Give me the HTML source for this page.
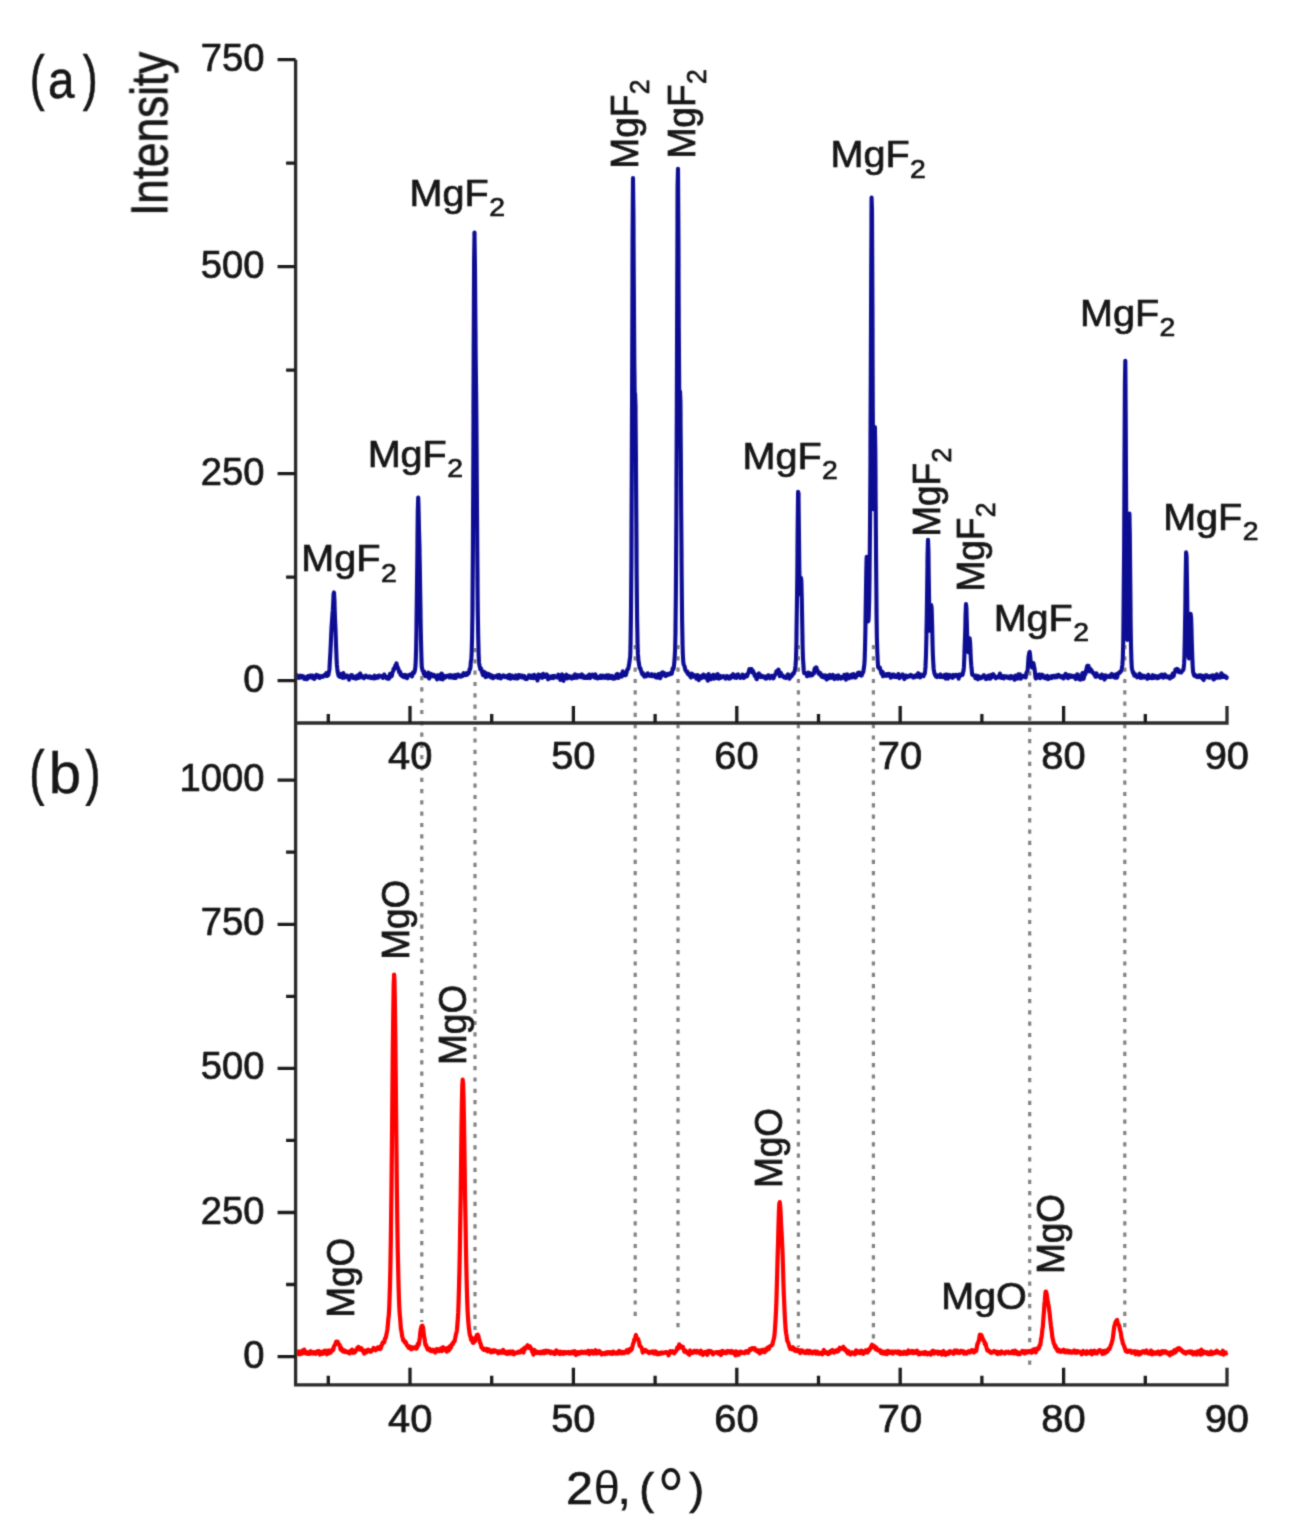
<!DOCTYPE html>
<html><head><meta charset="utf-8"><style>html,body{margin:0;padding:0;background:#fff;overflow:hidden}svg{display:block}</style></head>
<body><svg width="1311" height="1534" viewBox="0 0 1311 1534">
<defs><filter id="bl" filterUnits="userSpaceOnUse" x="0" y="0" width="1311" height="1534"><feConvolveMatrix order="5" kernelMatrix="0.00001 0.00042 0.00170 0.00042 0.00001 0.00042 0.02740 0.10988 0.02740 0.00042 0.00170 0.10988 0.44065 0.10988 0.00170 0.00042 0.02740 0.10988 0.02740 0.00042 0.00001 0.00042 0.00170 0.00042 0.00001" divisor="1" edgeMode="duplicate"/></filter></defs>
<rect width="100%" height="100%" fill="#fff"/>
<g filter="url(#bl)">
<line x1="421.8" y1="676" x2="421.8" y2="1322" stroke="#828282" stroke-width="3.2" stroke-dasharray="4.2 7.1"/>
<line x1="475.0" y1="648" x2="475.0" y2="1330" stroke="#828282" stroke-width="3.2" stroke-dasharray="4.2 7.1"/>
<line x1="635.2" y1="645" x2="635.2" y2="1320" stroke="#828282" stroke-width="3.2" stroke-dasharray="4.2 7.1"/>
<line x1="678.0" y1="645" x2="678.0" y2="1329" stroke="#828282" stroke-width="3.2" stroke-dasharray="4.2 7.1"/>
<line x1="798.4" y1="645" x2="798.4" y2="1347" stroke="#828282" stroke-width="3.2" stroke-dasharray="4.2 7.1"/>
<line x1="873.4" y1="645" x2="873.4" y2="1342" stroke="#828282" stroke-width="3.2" stroke-dasharray="4.2 7.1"/>
<line x1="1029.7" y1="660" x2="1029.7" y2="1365" stroke="#828282" stroke-width="3.2" stroke-dasharray="4.2 7.1"/>
<line x1="1124.8" y1="645" x2="1124.8" y2="1334" stroke="#828282" stroke-width="3.2" stroke-dasharray="4.2 7.1"/>
<polyline points="295.6,676.9 296.0,675.8 296.4,674.8 296.8,676.3 297.3,677.6 297.7,677.6 298.1,676.9 298.5,676.5 298.9,676.3 299.3,677.8 299.7,677.1 300.1,675.7 300.5,676.4 300.9,676.4 301.3,677.3 301.7,676.8 302.2,675.8 302.6,676.4 303.0,677.2 303.4,676.4 303.8,677.0 304.2,678.9 304.6,677.8 305.0,677.1 305.4,679.0 305.8,679.1 306.2,677.9 306.6,678.2 307.1,679.1 307.5,678.1 307.9,676.1 308.3,676.3 308.7,677.7 309.1,677.2 309.5,675.9 309.9,676.5 310.3,676.6 310.7,675.5 311.1,676.1 311.6,677.7 312.0,677.2 312.4,676.3 312.8,675.7 313.2,677.0 313.6,678.4 314.0,678.0 314.4,678.9 314.8,678.1 315.2,676.2 315.6,676.9 316.0,676.2 316.5,674.9 316.9,675.5 317.3,675.9 317.7,675.6 318.1,677.0 318.5,677.3 318.9,675.7 319.3,677.6 319.7,677.8 320.1,676.5 320.5,676.2 320.9,676.3 321.4,676.9 321.8,676.3 322.2,676.9 322.6,676.7 323.0,676.0 323.4,676.0 323.8,676.3 324.2,675.8 324.6,674.8 325.0,675.7 325.4,675.6 325.8,674.3 326.3,673.2 326.7,675.4 327.1,675.9 327.5,674.0 327.9,674.5 328.3,675.2 328.7,673.1 329.1,671.5 329.5,668.7 329.9,660.6 330.3,653.7 330.8,644.3 331.2,633.9 331.6,626.9 332.0,621.1 332.4,615.1 332.8,610.2 333.2,603.2 333.6,594.2 334.0,592.4 334.4,599.9 334.8,612.0 335.2,623.0 335.7,634.3 336.1,646.9 336.5,657.9 336.9,664.9 337.3,668.9 337.7,672.0 338.1,673.8 338.5,675.6 338.9,676.3 339.3,674.5 339.7,674.5 340.1,676.9 340.6,675.8 341.0,674.3 341.4,673.8 341.8,674.3 342.2,676.5 342.6,677.8 343.0,676.4 343.4,673.1 343.8,674.9 344.2,677.7 344.6,676.5 345.0,676.7 345.5,677.4 345.9,677.1 346.3,676.7 346.7,675.5 347.1,675.7 347.5,675.9 347.9,676.2 348.3,676.7 348.7,678.2 349.1,679.7 349.5,677.2 350.0,676.5 350.4,676.7 350.8,675.8 351.2,675.2 351.6,675.0 352.0,675.2 352.4,676.0 352.8,677.4 353.2,678.0 353.6,677.8 354.0,678.1 354.4,678.2 354.9,677.3 355.3,676.7 355.7,676.9 356.1,678.7 356.5,678.5 356.9,676.7 357.3,675.7 357.7,675.4 358.1,676.9 358.5,678.0 358.9,675.8 359.3,674.5 359.8,674.7 360.2,673.5 360.6,675.7 361.0,677.2 361.4,676.1 361.8,676.0 362.2,675.9 362.6,676.2 363.0,676.5 363.4,677.9 363.8,678.2 364.2,677.6 364.7,677.4 365.1,677.1 365.5,676.7 365.9,675.6 366.3,675.9 366.7,676.3 367.1,676.5 367.5,677.1 367.9,677.3 368.3,677.4 368.7,676.9 369.1,676.5 369.6,676.3 370.0,677.5 370.4,677.2 370.8,676.7 371.2,678.1 371.6,677.6 372.0,677.5 372.4,677.1 372.8,677.1 373.2,678.2 373.6,678.4 374.1,676.4 374.5,675.7 374.9,677.7 375.3,677.8 375.7,678.1 376.1,676.6 376.5,676.6 376.9,677.7 377.3,676.0 377.7,677.5 378.1,677.7 378.5,675.7 379.0,675.6 379.4,676.2 379.8,675.8 380.2,675.8 380.6,676.3 381.0,676.6 381.4,676.3 381.8,677.0 382.2,676.9 382.6,676.5 383.0,678.0 383.4,677.3 383.9,675.0 384.3,674.5 384.7,676.3 385.1,676.5 385.5,676.4 385.9,677.1 386.3,676.6 386.7,678.4 387.1,678.3 387.5,677.2 387.9,677.9 388.3,678.2 388.8,678.8 389.2,678.3 389.6,676.3 390.0,673.9 390.4,674.4 390.8,674.6 391.2,674.3 391.6,676.3 392.0,675.2 392.4,672.4 392.8,671.8 393.3,670.8 393.7,668.7 394.1,668.4 394.5,668.9 394.9,667.4 395.3,665.7 395.7,665.5 396.1,664.6 396.5,663.4 396.9,665.4 397.3,667.2 397.7,667.3 398.2,668.5 398.6,669.6 399.0,671.5 399.4,672.7 399.8,671.5 400.2,672.1 400.6,674.8 401.0,675.3 401.4,674.1 401.8,674.5 402.2,676.1 402.6,675.2 403.1,675.9 403.5,676.8 403.9,675.8 404.3,677.2 404.7,676.2 405.1,674.9 405.5,676.9 405.9,676.6 406.3,676.0 406.7,678.0 407.1,678.2 407.5,676.4 408.0,675.3 408.4,675.3 408.8,675.7 409.2,675.4 409.6,675.5 410.0,674.8 410.4,674.4 410.8,675.0 411.2,674.5 411.6,675.5 412.0,676.3 412.5,673.9 412.9,672.7 413.3,673.7 413.7,673.2 414.1,672.7 414.5,671.8 414.9,670.4 415.3,667.6 415.7,662.5 416.1,649.3 416.5,625.6 416.9,592.7 417.4,549.4 417.8,511.3 418.2,497.5 418.6,510.0 419.0,530.1 419.4,544.6 419.8,565.5 420.2,593.2 420.6,618.7 421.0,640.8 421.4,657.1 421.8,666.9 422.3,669.5 422.7,670.8 423.1,671.1 423.5,672.4 423.9,674.2 424.3,671.6 424.7,672.8 425.1,676.2 425.5,675.8 425.9,675.3 426.3,674.8 426.7,674.8 427.2,676.2 427.6,676.2 428.0,673.5 428.4,672.7 428.8,677.3 429.2,678.5 429.6,677.0 430.0,676.4 430.4,675.9 430.8,674.8 431.2,673.9 431.7,674.8 432.1,675.5 432.5,676.3 432.9,676.2 433.3,675.1 433.7,674.9 434.1,676.3 434.5,675.7 434.9,675.3 435.3,676.4 435.7,677.2 436.1,677.6 436.6,677.5 437.0,679.4 437.4,678.0 437.8,675.2 438.2,676.3 438.6,675.9 439.0,675.3 439.4,675.9 439.8,678.3 440.2,678.8 440.6,676.3 441.0,674.8 441.5,673.7 441.9,673.9 442.3,676.4 442.7,679.4 443.1,677.9 443.5,676.1 443.9,675.8 444.3,675.9 444.7,676.5 445.1,677.6 445.5,677.5 445.9,676.6 446.4,676.7 446.8,675.9 447.2,676.3 447.6,676.4 448.0,676.3 448.4,675.9 448.8,675.5 449.2,676.6 449.6,677.5 450.0,675.6 450.4,675.1 450.8,675.8 451.3,675.3 451.7,676.6 452.1,677.5 452.5,677.0 452.9,676.1 453.3,675.7 453.7,676.9 454.1,677.9 454.5,676.9 454.9,675.1 455.3,677.0 455.8,677.9 456.2,676.4 456.6,676.3 457.0,676.3 457.4,676.3 457.8,674.6 458.2,674.5 458.6,675.4 459.0,675.4 459.4,676.3 459.8,676.1 460.2,675.6 460.7,676.7 461.1,676.5 461.5,675.9 461.9,675.2 462.3,675.0 462.7,676.0 463.1,674.6 463.5,673.2 463.9,673.3 464.3,673.5 464.7,674.4 465.1,675.1 465.6,675.1 466.0,673.7 466.4,673.1 466.8,674.8 467.2,674.6 467.6,674.1 468.0,673.5 468.4,672.7 468.8,673.2 469.2,671.3 469.6,669.2 470.0,669.4 470.5,667.0 470.9,661.4 471.3,659.5 471.7,652.7 472.1,637.1 472.5,607.8 472.9,549.5 473.3,461.4 473.7,352.3 474.1,259.6 474.5,232.6 475.0,269.2 475.4,324.5 475.8,366.2 476.2,398.2 476.6,447.4 477.0,510.3 477.4,567.6 477.8,610.6 478.2,637.2 478.6,653.2 479.0,662.2 479.4,665.2 479.9,667.1 480.3,669.3 480.7,669.3 481.1,668.6 481.5,670.0 481.9,672.2 482.3,672.5 482.7,674.3 483.1,675.2 483.5,674.8 483.9,673.1 484.3,671.9 484.8,673.9 485.2,674.9 485.6,677.2 486.0,676.6 486.4,673.3 486.8,674.6 487.2,675.5 487.6,674.4 488.0,676.3 488.4,676.2 488.8,673.9 489.2,674.6 489.7,675.8 490.1,675.4 490.5,676.7 490.9,677.3 491.3,675.2 491.7,676.3 492.1,676.4 492.5,675.8 492.9,678.3 493.3,678.1 493.7,677.2 494.2,676.9 494.6,677.1 495.0,676.5 495.4,676.2 495.8,676.7 496.2,676.6 496.6,677.2 497.0,675.8 497.4,675.3 497.8,676.7 498.2,677.9 498.6,676.6 499.1,675.0 499.5,676.2 499.9,676.7 500.3,677.2 500.7,678.3 501.1,678.1 501.5,677.0 501.9,676.1 502.3,677.0 502.7,676.7 503.1,675.4 503.5,675.9 504.0,675.7 504.4,676.1 504.8,677.0 505.2,676.4 505.6,676.3 506.0,676.1 506.4,677.1 506.8,676.6 507.2,676.2 507.6,677.5 508.0,678.0 508.4,677.4 508.9,675.2 509.3,674.8 509.7,675.2 510.1,677.4 510.5,678.7 510.9,677.8 511.3,677.9 511.7,676.6 512.1,675.7 512.5,676.6 512.9,676.4 513.4,677.2 513.8,678.3 514.2,678.3 514.6,677.1 515.0,676.1 515.4,676.0 515.8,675.4 516.2,677.0 516.6,678.4 517.0,677.1 517.4,677.8 517.8,678.4 518.3,676.4 518.7,675.1 519.1,675.0 519.5,675.9 519.9,677.0 520.3,676.1 520.7,676.2 521.1,676.9 521.5,675.5 521.9,676.0 522.3,677.6 522.7,677.3 523.2,676.3 523.6,675.9 524.0,676.3 524.4,676.2 524.8,677.7 525.2,678.9 525.6,677.4 526.0,677.5 526.4,678.7 526.8,679.0 527.2,678.6 527.6,677.8 528.1,677.8 528.5,677.5 528.9,675.3 529.3,675.6 529.7,675.9 530.1,675.6 530.5,677.5 530.9,678.0 531.3,677.9 531.7,677.0 532.1,677.2 532.5,676.7 533.0,675.3 533.4,678.1 533.8,677.9 534.2,674.9 534.6,676.2 535.0,676.7 535.4,677.5 535.8,678.1 536.2,678.0 536.6,677.8 537.0,677.9 537.5,680.5 537.9,678.7 538.3,674.6 538.7,675.5 539.1,676.7 539.5,676.1 539.9,677.0 540.3,676.6 540.7,675.0 541.1,676.5 541.5,677.4 541.9,676.1 542.4,677.8 542.8,676.7 543.2,673.9 543.6,676.0 544.0,676.2 544.4,675.4 544.8,677.0 545.2,675.8 545.6,675.4 546.0,676.4 546.4,675.3 546.8,674.5 547.3,675.1 547.7,677.3 548.1,679.3 548.5,677.2 548.9,676.7 549.3,677.5 549.7,677.6 550.1,677.9 550.5,678.1 550.9,676.6 551.3,676.4 551.7,677.8 552.2,677.1 552.6,676.0 553.0,677.0 553.4,678.1 553.8,677.1 554.2,676.6 554.6,676.0 555.0,676.9 555.4,677.1 555.8,677.0 556.2,676.8 556.7,676.6 557.1,677.5 557.5,677.4 557.9,676.6 558.3,674.7 558.7,675.4 559.1,677.0 559.5,675.4 559.9,677.4 560.3,680.0 560.7,679.3 561.1,677.9 561.6,674.9 562.0,674.5 562.4,675.5 562.8,676.0 563.2,679.1 563.6,680.8 564.0,677.9 564.4,675.9 564.8,677.8 565.2,677.0 565.6,677.2 566.0,677.2 566.5,674.7 566.9,676.3 567.3,678.4 567.7,677.1 568.1,677.1 568.5,677.0 568.9,677.1 569.3,677.2 569.7,676.1 570.1,677.1 570.5,678.0 570.9,677.4 571.4,678.2 571.8,678.6 572.2,677.4 572.6,676.6 573.0,677.3 573.4,676.5 573.8,675.7 574.2,678.0 574.6,676.6 575.0,674.3 575.4,675.6 575.9,677.7 576.3,677.6 576.7,677.4 577.1,677.7 577.5,675.8 577.9,675.2 578.3,676.4 578.7,676.4 579.1,676.6 579.5,676.2 579.9,675.4 580.3,676.4 580.8,677.0 581.2,674.7 581.6,674.5 582.0,676.6 582.4,675.3 582.8,675.1 583.2,677.7 583.6,677.2 584.0,677.0 584.4,678.0 584.8,677.0 585.2,676.6 585.7,677.5 586.1,677.9 586.5,677.7 586.9,676.3 587.3,676.4 587.7,677.9 588.1,675.6 588.5,675.6 588.9,676.0 589.3,674.5 589.7,675.8 590.1,678.1 590.6,677.6 591.0,675.8 591.4,675.4 591.8,675.9 592.2,675.7 592.6,674.6 593.0,676.5 593.4,676.4 593.8,675.4 594.2,677.1 594.6,677.5 595.1,675.5 595.5,674.4 595.9,677.4 596.3,678.1 596.7,676.8 597.1,677.0 597.5,677.3 597.9,678.3 598.3,677.2 598.7,676.8 599.1,677.8 599.5,677.5 600.0,677.8 600.4,676.7 600.8,675.7 601.2,676.9 601.6,678.0 602.0,677.8 602.4,676.2 602.8,675.7 603.2,676.3 603.6,676.7 604.0,677.1 604.4,676.6 604.9,677.9 605.3,676.8 605.7,675.9 606.1,677.7 606.5,675.9 606.9,675.3 607.3,676.3 607.7,677.0 608.1,678.3 608.5,677.6 608.9,675.3 609.3,676.2 609.8,676.1 610.2,676.2 610.6,678.0 611.0,676.6 611.4,676.0 611.8,675.8 612.2,676.4 612.6,677.8 613.0,678.7 613.4,678.8 613.8,678.1 614.2,678.3 614.7,677.1 615.1,676.5 615.5,678.3 615.9,675.7 616.3,674.7 616.7,677.7 617.1,676.0 617.5,673.9 617.9,675.9 618.3,678.0 618.7,677.8 619.2,675.6 619.6,675.0 620.0,676.5 620.4,676.2 620.8,674.4 621.2,675.4 621.6,676.6 622.0,676.5 622.4,674.3 622.8,671.4 623.2,672.3 623.6,673.7 624.1,673.7 624.5,675.1 624.9,675.2 625.3,674.2 625.7,675.2 626.1,674.2 626.5,672.9 626.9,671.2 627.3,669.6 627.7,669.0 628.1,669.2 628.5,667.5 629.0,665.0 629.4,662.2 629.8,659.4 630.2,656.5 630.6,643.4 631.0,612.1 631.4,557.8 631.8,470.7 632.2,351.6 632.6,234.8 633.0,178.0 633.4,212.8 633.9,295.6 634.3,363.8 634.7,392.2 635.1,394.2 635.5,406.7 635.9,452.4 636.3,516.9 636.7,576.5 637.1,618.4 637.5,640.9 637.9,653.4 638.4,660.7 638.8,662.5 639.2,665.3 639.6,668.2 640.0,668.5 640.4,668.3 640.8,669.6 641.2,671.4 641.6,672.1 642.0,673.8 642.4,673.3 642.8,672.8 643.3,675.5 643.7,675.6 644.1,675.8 644.5,676.7 644.9,675.4 645.3,675.5 645.7,674.8 646.1,675.3 646.5,676.1 646.9,674.5 647.3,673.6 647.7,673.4 648.2,674.5 648.6,675.2 649.0,675.5 649.4,674.7 649.8,675.2 650.2,675.8 650.6,675.3 651.0,675.6 651.4,675.8 651.8,674.2 652.2,674.6 652.6,676.2 653.1,675.4 653.5,675.1 653.9,675.0 654.3,675.2 654.7,674.7 655.1,676.3 655.5,677.1 655.9,676.9 656.3,676.7 656.7,676.7 657.1,677.7 657.6,676.7 658.0,674.8 658.4,674.2 658.8,675.1 659.2,674.4 659.6,675.4 660.0,678.3 660.4,677.9 660.8,676.3 661.2,674.9 661.6,672.9 662.0,675.0 662.5,674.7 662.9,672.2 663.3,673.5 663.7,674.5 664.1,673.1 664.5,673.3 664.9,675.6 665.3,675.5 665.7,676.1 666.1,675.7 666.5,674.6 666.9,674.6 667.4,674.0 667.8,675.0 668.2,674.1 668.6,673.8 669.0,674.0 669.4,674.2 669.8,674.3 670.2,673.3 670.6,673.2 671.0,672.6 671.4,673.8 671.8,673.6 672.3,670.9 672.7,668.4 673.1,668.5 673.5,669.2 673.9,666.6 674.3,662.2 674.7,657.6 675.1,649.7 675.5,630.5 675.9,591.4 676.3,521.8 676.8,416.6 677.2,289.5 677.6,186.3 678.0,168.8 678.4,236.5 678.8,327.9 679.2,390.0 679.6,402.5 680.0,391.4 680.4,401.0 680.8,448.7 681.2,515.4 681.7,577.6 682.1,620.7 682.5,643.0 682.9,655.5 683.3,662.3 683.7,664.5 684.1,665.4 684.5,666.2 684.9,667.8 685.3,669.9 685.7,670.7 686.1,670.7 686.6,672.1 687.0,671.9 687.4,671.7 687.8,673.8 688.2,673.4 688.6,673.3 689.0,674.1 689.4,675.3 689.8,676.0 690.2,675.7 690.6,676.6 691.0,677.5 691.5,675.0 691.9,673.7 692.3,675.3 692.7,674.4 693.1,674.8 693.5,675.3 693.9,676.4 694.3,676.7 694.7,676.0 695.1,675.8 695.5,675.4 695.9,677.0 696.4,678.7 696.8,678.4 697.2,676.3 697.6,675.2 698.0,675.5 698.4,677.5 698.8,680.1 699.2,679.0 699.6,677.1 700.0,677.1 700.4,676.5 700.9,676.2 701.3,677.5 701.7,678.1 702.1,677.0 702.5,676.2 702.9,676.4 703.3,674.6 703.7,674.8 704.1,676.6 704.5,677.2 704.9,677.6 705.3,676.4 705.8,675.6 706.2,676.2 706.6,676.4 707.0,676.2 707.4,678.1 707.8,680.8 708.2,677.4 708.6,674.0 709.0,676.0 709.4,678.1 709.8,679.1 710.2,676.6 710.7,677.8 711.1,679.2 711.5,676.2 711.9,675.8 712.3,675.9 712.7,676.1 713.1,674.8 713.5,675.5 713.9,678.7 714.3,677.6 714.7,675.3 715.1,675.6 715.6,675.9 716.0,676.3 716.4,678.1 716.8,676.5 717.2,674.3 717.6,674.1 718.0,675.8 718.4,678.0 718.8,678.7 719.2,677.9 719.6,676.4 720.1,675.8 720.5,677.5 720.9,677.8 721.3,676.6 721.7,676.7 722.1,676.7 722.5,676.9 722.9,676.4 723.3,676.2 723.7,676.5 724.1,677.1 724.5,677.0 725.0,676.5 725.4,678.6 725.8,678.1 726.2,676.6 726.6,676.2 727.0,676.1 727.4,677.0 727.8,676.7 728.2,676.6 728.6,677.2 729.0,678.6 729.4,676.7 729.9,676.6 730.3,678.4 730.7,676.5 731.1,675.9 731.5,676.0 731.9,675.7 732.3,675.1 732.7,675.5 733.1,674.1 733.5,675.2 733.9,677.4 734.3,676.9 734.8,677.5 735.2,677.0 735.6,675.3 736.0,676.1 736.4,677.9 736.8,676.7 737.2,675.7 737.6,674.7 738.0,674.3 738.4,675.7 738.8,676.8 739.3,676.8 739.7,676.7 740.1,678.0 740.5,677.8 740.9,676.8 741.3,677.0 741.7,677.2 742.1,675.6 742.5,674.7 742.9,675.3 743.3,676.3 743.7,677.9 744.2,677.6 744.6,676.5 745.0,676.5 745.4,676.8 745.8,675.5 746.2,674.8 746.6,676.1 747.0,676.2 747.4,675.2 747.8,673.9 748.2,673.3 748.6,672.6 749.1,670.1 749.5,669.1 749.9,669.9 750.3,670.3 750.7,669.6 751.1,669.1 751.5,669.0 751.9,670.0 752.3,672.4 752.7,671.7 753.1,671.0 753.5,672.6 754.0,673.3 754.4,675.1 754.8,676.1 755.2,675.5 755.6,674.8 756.0,675.2 756.4,678.8 756.8,679.2 757.2,676.4 757.6,675.2 758.0,674.9 758.5,673.9 758.9,673.4 759.3,674.3 759.7,674.8 760.1,677.0 760.5,677.1 760.9,675.5 761.3,676.6 761.7,676.6 762.1,675.9 762.5,676.7 762.9,677.2 763.4,677.0 763.8,676.7 764.2,676.9 764.6,676.6 765.0,677.8 765.4,678.5 765.8,678.3 766.2,678.5 766.6,676.7 767.0,676.2 767.4,676.8 767.8,676.7 768.3,675.3 768.7,676.3 769.1,676.8 769.5,677.2 769.9,678.3 770.3,676.9 770.7,677.2 771.1,677.1 771.5,675.8 771.9,676.9 772.3,677.6 772.7,676.9 773.2,678.3 773.6,678.1 774.0,677.0 774.4,675.5 774.8,675.2 775.2,674.5 775.6,673.7 776.0,672.9 776.4,671.4 776.8,672.1 777.2,671.4 777.6,670.7 778.1,670.1 778.5,669.6 778.9,671.2 779.3,674.0 779.7,676.2 780.1,675.8 780.5,673.3 780.9,673.0 781.3,673.9 781.7,674.9 782.1,675.9 782.6,676.1 783.0,675.6 783.4,677.0 783.8,676.8 784.2,676.7 784.6,677.5 785.0,676.8 785.4,677.0 785.8,677.3 786.2,678.0 786.6,677.3 787.0,677.2 787.5,674.9 787.9,674.3 788.3,676.8 788.7,676.9 789.1,677.2 789.5,678.7 789.9,677.9 790.3,675.5 790.7,676.4 791.1,676.5 791.5,676.1 791.9,675.9 792.4,674.3 792.8,673.6 793.2,673.2 793.6,673.7 794.0,672.7 794.4,671.7 794.8,671.0 795.2,668.2 795.6,665.2 796.0,659.1 796.4,642.4 796.8,613.7 797.3,573.0 797.7,526.0 798.1,491.9 798.5,493.5 798.9,529.3 799.3,567.8 799.7,589.9 800.1,594.3 800.5,586.9 800.9,577.7 801.3,580.0 801.8,598.3 802.2,623.0 802.6,645.4 803.0,658.7 803.4,665.0 803.8,670.5 804.2,673.1 804.6,672.8 805.0,673.2 805.4,673.5 805.8,673.2 806.2,673.5 806.7,674.5 807.1,676.2 807.5,675.8 807.9,673.6 808.3,672.6 808.7,673.9 809.1,675.6 809.5,674.4 809.9,673.2 810.3,674.1 810.7,674.7 811.1,675.4 811.6,675.3 812.0,675.0 812.4,675.1 812.8,673.8 813.2,673.1 813.6,673.8 814.0,673.0 814.4,669.9 814.8,668.4 815.2,668.5 815.6,668.0 816.0,667.4 816.5,667.5 816.9,669.3 817.3,670.5 817.7,670.7 818.1,672.0 818.5,673.6 818.9,673.6 819.3,673.8 819.7,672.7 820.1,672.7 820.5,675.2 821.0,675.9 821.4,674.5 821.8,675.2 822.2,677.0 822.6,677.0 823.0,677.1 823.4,676.5 823.8,675.5 824.2,676.7 824.6,677.7 825.0,675.2 825.4,675.6 825.9,677.1 826.3,677.4 826.7,679.5 827.1,678.8 827.5,675.7 827.9,676.0 828.3,678.5 828.7,677.9 829.1,676.3 829.5,675.7 829.9,675.0 830.3,676.1 830.8,676.5 831.2,677.8 831.6,677.2 832.0,675.6 832.4,675.6 832.8,674.9 833.2,676.0 833.6,677.0 834.0,677.5 834.4,679.1 834.8,678.4 835.2,676.6 835.7,677.4 836.1,676.9 836.5,675.9 836.9,676.2 837.3,676.9 837.7,678.7 838.1,677.4 838.5,675.4 838.9,676.2 839.3,677.0 839.7,677.2 840.2,676.9 840.6,677.1 841.0,678.6 841.4,677.6 841.8,677.1 842.2,678.1 842.6,677.1 843.0,676.6 843.4,677.6 843.8,676.8 844.2,674.9 844.6,675.3 845.1,674.8 845.5,676.1 845.9,679.7 846.3,678.7 846.7,675.0 847.1,674.3 847.5,675.8 847.9,676.9 848.3,676.2 848.7,677.6 849.1,678.3 849.5,677.3 850.0,675.5 850.4,675.4 850.8,675.4 851.2,674.8 851.6,677.5 852.0,675.6 852.4,675.0 852.8,676.3 853.2,674.0 853.6,674.9 854.0,677.3 854.4,676.0 854.9,674.8 855.3,676.7 855.7,677.5 856.1,676.8 856.5,675.0 856.9,674.8 857.3,675.0 857.7,673.3 858.1,672.7 858.5,672.7 858.9,672.6 859.3,674.9 859.8,674.8 860.2,672.9 860.6,673.8 861.0,674.7 861.4,675.6 861.8,675.2 862.2,673.4 862.6,672.9 863.0,672.8 863.4,671.3 863.8,668.4 864.3,664.8 864.7,658.8 865.1,644.6 865.5,623.6 865.9,596.1 866.3,569.4 866.7,556.7 867.1,565.3 867.5,588.3 867.9,610.1 868.3,621.4 868.7,617.4 869.2,600.1 869.6,570.7 870.0,528.5 870.4,467.7 870.8,376.5 871.2,270.3 871.6,197.6 872.0,210.3 872.4,302.1 872.8,408.6 873.2,483.0 873.6,509.3 874.1,490.3 874.5,449.6 874.9,427.0 875.3,449.5 875.7,503.5 876.1,561.9 876.5,609.2 876.9,638.1 877.3,651.9 877.7,660.7 878.1,666.7 878.5,667.8 879.0,667.4 879.4,667.3 879.8,667.5 880.2,669.6 880.6,670.0 881.0,672.0 881.4,673.6 881.8,673.4 882.2,672.4 882.6,672.0 883.0,676.2 883.5,675.7 883.9,674.2 884.3,674.8 884.7,674.6 885.1,675.2 885.5,674.4 885.9,674.5 886.3,675.9 886.7,675.0 887.1,674.0 887.5,675.2 887.9,675.0 888.4,675.5 888.8,674.6 889.2,674.0 889.6,675.4 890.0,675.3 890.4,676.4 890.8,677.7 891.2,676.8 891.6,675.6 892.0,674.7 892.4,674.6 892.8,676.7 893.3,676.6 893.7,675.1 894.1,674.7 894.5,675.1 894.9,677.0 895.3,676.3 895.7,675.9 896.1,676.4 896.5,677.1 896.9,677.0 897.3,676.4 897.7,676.1 898.2,674.0 898.6,674.0 899.0,676.4 899.4,678.2 899.8,677.9 900.2,676.6 900.6,675.6 901.0,676.0 901.4,676.1 901.8,675.7 902.2,675.4 902.7,674.5 903.1,675.1 903.5,676.4 903.9,677.9 904.3,679.1 904.7,678.2 905.1,678.1 905.5,677.3 905.9,675.5 906.3,676.0 906.7,677.3 907.1,677.3 907.6,676.8 908.0,676.9 908.4,676.6 908.8,675.9 909.2,676.0 909.6,675.6 910.0,675.8 910.4,676.4 910.8,674.9 911.2,675.1 911.6,675.9 912.0,675.8 912.5,676.8 912.9,677.2 913.3,677.5 913.7,677.1 914.1,676.9 914.5,677.2 914.9,675.7 915.3,675.5 915.7,675.5 916.1,675.1 916.5,675.3 916.9,676.0 917.4,676.6 917.8,673.9 918.2,673.2 918.6,674.5 919.0,675.0 919.4,675.0 919.8,676.1 920.2,677.4 920.6,676.0 921.0,674.5 921.4,675.0 921.9,675.7 922.3,675.4 922.7,675.2 923.1,675.6 923.5,676.2 923.9,674.7 924.3,674.3 924.7,673.9 925.1,671.0 925.5,666.9 925.9,657.5 926.3,640.9 926.8,615.8 927.2,584.1 927.6,554.4 928.0,539.8 928.4,551.0 928.8,579.9 929.2,608.3 929.6,626.0 930.0,630.6 930.4,622.5 930.8,611.3 931.2,605.1 931.7,609.0 932.1,623.9 932.5,642.0 932.9,655.1 933.3,663.3 933.7,669.0 934.1,671.9 934.5,673.2 934.9,674.7 935.3,675.0 935.7,676.1 936.1,676.6 936.6,676.6 937.0,677.0 937.4,675.3 937.8,675.4 938.2,676.5 938.6,675.9 939.0,675.9 939.4,676.7 939.8,676.9 940.2,675.3 940.6,674.5 941.0,675.4 941.5,677.0 941.9,676.9 942.3,677.0 942.7,677.1 943.1,677.0 943.5,675.8 943.9,676.3 944.3,676.9 944.7,674.9 945.1,677.4 945.5,678.3 946.0,675.6 946.4,674.5 946.8,677.1 947.2,678.4 947.6,678.1 948.0,678.5 948.4,678.0 948.8,675.7 949.2,675.0 949.6,676.7 950.0,677.1 950.4,676.4 950.9,675.5 951.3,676.9 951.7,676.2 952.1,676.3 952.5,677.8 952.9,676.5 953.3,674.9 953.7,675.5 954.1,676.7 954.5,675.3 954.9,675.0 955.3,675.1 955.8,674.8 956.2,675.5 956.6,675.8 957.0,675.2 957.4,675.7 957.8,675.1 958.2,676.7 958.6,678.7 959.0,675.8 959.4,674.6 959.8,676.2 960.2,676.1 960.7,674.6 961.1,675.2 961.5,675.2 961.9,674.6 962.3,674.9 962.7,674.3 963.1,672.1 963.5,670.7 963.9,667.4 964.3,657.8 964.7,645.9 965.2,631.5 965.6,614.1 966.0,604.0 966.4,608.1 966.8,621.0 967.2,636.9 967.6,646.0 968.0,650.9 968.4,652.2 968.8,647.2 969.2,641.8 969.6,638.2 970.1,642.6 970.5,651.6 970.9,660.3 971.3,665.7 971.7,669.3 972.1,674.2 972.5,674.9 972.9,674.8 973.3,675.3 973.7,675.1 974.1,675.5 974.5,675.7 975.0,676.8 975.4,678.2 975.8,676.7 976.2,675.7 976.6,676.3 977.0,676.6 977.4,678.6 977.8,679.3 978.2,676.5 978.6,676.1 979.0,677.6 979.4,678.2 979.9,678.4 980.3,677.5 980.7,677.2 981.1,677.0 981.5,677.4 981.9,677.8 982.3,677.3 982.7,676.6 983.1,676.7 983.5,675.5 983.9,675.2 984.4,676.5 984.8,677.3 985.2,676.6 985.6,676.9 986.0,679.1 986.4,679.0 986.8,677.2 987.2,677.3 987.6,676.8 988.0,675.9 988.4,678.2 988.8,678.4 989.3,675.6 989.7,676.2 990.1,678.7 990.5,677.6 990.9,675.4 991.3,675.0 991.7,676.4 992.1,677.1 992.5,676.5 992.9,675.7 993.3,674.2 993.7,675.3 994.2,676.0 994.6,676.2 995.0,676.8 995.4,677.2 995.8,678.4 996.2,677.3 996.6,677.4 997.0,677.0 997.4,676.7 997.8,677.4 998.2,677.0 998.6,677.3 999.1,677.1 999.5,676.0 999.9,673.5 1000.3,675.4 1000.7,677.7 1001.1,676.9 1001.5,677.9 1001.9,677.5 1002.3,677.5 1002.7,677.8 1003.1,676.0 1003.6,677.6 1004.0,678.4 1004.4,676.4 1004.8,677.4 1005.2,677.3 1005.6,676.3 1006.0,677.0 1006.4,676.3 1006.8,677.1 1007.2,677.5 1007.6,676.6 1008.0,678.0 1008.5,678.0 1008.9,677.4 1009.3,676.6 1009.7,677.5 1010.1,678.4 1010.5,677.5 1010.9,676.0 1011.3,676.6 1011.7,677.0 1012.1,677.5 1012.5,678.1 1012.9,676.8 1013.4,676.8 1013.8,677.2 1014.2,679.1 1014.6,679.8 1015.0,677.1 1015.4,675.7 1015.8,677.5 1016.2,676.9 1016.6,676.8 1017.0,678.2 1017.4,678.5 1017.8,676.9 1018.3,674.3 1018.7,676.1 1019.1,677.4 1019.5,675.8 1019.9,674.3 1020.3,677.1 1020.7,678.7 1021.1,676.2 1021.5,677.5 1021.9,677.7 1022.3,676.2 1022.7,675.9 1023.2,676.5 1023.6,676.7 1024.0,676.7 1024.4,676.5 1024.8,675.7 1025.2,676.4 1025.6,677.5 1026.0,675.5 1026.4,672.8 1026.8,672.2 1027.2,671.7 1027.7,669.6 1028.1,663.4 1028.5,657.5 1028.9,654.9 1029.3,652.6 1029.7,651.9 1030.1,655.2 1030.5,660.4 1030.9,663.2 1031.3,664.5 1031.7,666.5 1032.1,667.7 1032.6,666.6 1033.0,664.2 1033.4,663.1 1033.8,665.0 1034.2,667.2 1034.6,669.3 1035.0,673.1 1035.4,677.1 1035.8,678.5 1036.2,678.0 1036.6,677.5 1037.0,676.2 1037.5,675.0 1037.9,675.4 1038.3,677.6 1038.7,675.7 1039.1,674.5 1039.5,676.7 1039.9,677.2 1040.3,678.1 1040.7,677.4 1041.1,676.0 1041.5,675.2 1041.9,674.6 1042.4,675.2 1042.8,675.1 1043.2,676.1 1043.6,677.5 1044.0,677.3 1044.4,678.0 1044.8,678.1 1045.2,677.3 1045.6,676.6 1046.0,676.4 1046.4,678.5 1046.9,678.5 1047.3,675.7 1047.7,677.3 1048.1,679.1 1048.5,677.6 1048.9,678.0 1049.3,678.5 1049.7,677.3 1050.1,678.0 1050.5,677.8 1050.9,676.4 1051.3,677.7 1051.8,678.0 1052.2,676.0 1052.6,676.2 1053.0,676.7 1053.4,676.0 1053.8,676.6 1054.2,676.3 1054.6,675.8 1055.0,677.4 1055.4,677.3 1055.8,675.8 1056.2,675.6 1056.7,676.8 1057.1,677.1 1057.5,675.4 1057.9,675.6 1058.3,675.8 1058.7,674.9 1059.1,675.9 1059.5,676.4 1059.9,676.6 1060.3,676.3 1060.7,676.1 1061.1,677.4 1061.6,677.4 1062.0,677.0 1062.4,676.7 1062.8,676.2 1063.2,677.5 1063.6,678.4 1064.0,677.1 1064.4,676.2 1064.8,676.4 1065.2,674.6 1065.6,673.8 1066.1,676.0 1066.5,676.3 1066.9,675.2 1067.3,675.5 1067.7,678.0 1068.1,678.2 1068.5,676.7 1068.9,675.1 1069.3,676.6 1069.7,677.1 1070.1,675.7 1070.5,676.2 1071.0,676.3 1071.4,676.9 1071.8,675.7 1072.2,675.8 1072.6,675.9 1073.0,676.0 1073.4,677.2 1073.8,677.3 1074.2,677.4 1074.6,677.3 1075.0,675.8 1075.4,676.6 1075.9,679.1 1076.3,678.1 1076.7,675.4 1077.1,674.5 1077.5,674.8 1077.9,674.6 1078.3,676.3 1078.7,677.2 1079.1,678.8 1079.5,679.4 1079.9,676.6 1080.3,677.4 1080.8,679.6 1081.2,679.3 1081.6,677.4 1082.0,675.3 1082.4,673.2 1082.8,672.9 1083.2,676.1 1083.6,678.9 1084.0,677.0 1084.4,673.6 1084.8,674.2 1085.3,674.5 1085.7,672.3 1086.1,670.5 1086.5,668.9 1086.9,667.4 1087.3,665.8 1087.7,666.0 1088.1,666.7 1088.5,665.9 1088.9,668.2 1089.3,671.4 1089.7,670.7 1090.2,668.7 1090.6,669.1 1091.0,669.9 1091.4,670.4 1091.8,670.9 1092.2,671.7 1092.6,672.6 1093.0,672.5 1093.4,673.4 1093.8,673.2 1094.2,673.2 1094.6,675.2 1095.1,675.6 1095.5,676.7 1095.9,676.8 1096.3,673.2 1096.7,673.6 1097.1,675.5 1097.5,675.9 1097.9,675.7 1098.3,676.1 1098.7,676.2 1099.1,676.1 1099.5,677.0 1100.0,676.7 1100.4,676.4 1100.8,677.9 1101.2,676.1 1101.6,674.6 1102.0,677.7 1102.4,676.9 1102.8,675.5 1103.2,676.3 1103.6,675.6 1104.0,676.5 1104.4,679.6 1104.9,678.9 1105.3,676.3 1105.7,675.3 1106.1,676.1 1106.5,677.2 1106.9,676.2 1107.3,676.2 1107.7,676.8 1108.1,676.3 1108.5,676.9 1108.9,675.8 1109.4,675.7 1109.8,676.9 1110.2,676.4 1110.6,677.0 1111.0,676.3 1111.4,674.8 1111.8,674.0 1112.2,674.3 1112.6,675.9 1113.0,675.6 1113.4,676.4 1113.8,677.0 1114.3,675.3 1114.7,674.8 1115.1,676.1 1115.5,677.7 1115.9,675.3 1116.3,674.4 1116.7,677.0 1117.1,677.5 1117.5,675.9 1117.9,673.7 1118.3,673.5 1118.7,673.2 1119.2,672.7 1119.6,672.9 1120.0,671.8 1120.4,671.9 1120.8,671.8 1121.2,670.8 1121.6,670.3 1122.0,667.6 1122.4,664.7 1122.8,658.7 1123.2,643.5 1123.6,610.4 1124.1,549.8 1124.5,464.6 1124.9,384.4 1125.3,360.7 1125.7,411.1 1126.1,499.3 1126.5,576.5 1126.9,622.4 1127.3,639.9 1127.7,633.8 1128.1,610.9 1128.6,573.3 1129.0,533.9 1129.4,513.6 1129.8,532.3 1130.2,576.4 1130.6,618.5 1131.0,645.8 1131.4,660.1 1131.8,667.6 1132.2,669.9 1132.6,670.9 1133.0,672.8 1133.5,672.6 1133.9,673.3 1134.3,675.7 1134.7,675.0 1135.1,674.2 1135.5,674.7 1135.9,675.3 1136.3,675.5 1136.7,675.8 1137.1,677.3 1137.5,676.4 1137.9,675.9 1138.4,676.8 1138.8,675.5 1139.2,675.3 1139.6,673.7 1140.0,675.0 1140.4,677.9 1140.8,676.7 1141.2,675.0 1141.6,675.3 1142.0,677.7 1142.4,676.6 1142.8,676.2 1143.3,677.3 1143.7,675.8 1144.1,676.3 1144.5,677.4 1144.9,676.4 1145.3,676.3 1145.7,676.4 1146.1,677.1 1146.5,677.4 1146.9,677.6 1147.3,678.8 1147.8,676.4 1148.2,674.8 1148.6,675.5 1149.0,676.7 1149.4,677.4 1149.8,676.8 1150.2,678.0 1150.6,677.4 1151.0,676.8 1151.4,677.4 1151.8,678.1 1152.2,677.1 1152.7,675.2 1153.1,675.7 1153.5,677.1 1153.9,677.9 1154.3,676.1 1154.7,675.9 1155.1,676.7 1155.5,676.4 1155.9,677.5 1156.3,676.4 1156.7,677.1 1157.1,678.2 1157.6,676.6 1158.0,678.1 1158.4,677.8 1158.8,676.0 1159.2,676.2 1159.6,677.4 1160.0,677.0 1160.4,675.4 1160.8,675.6 1161.2,675.1 1161.6,674.6 1162.0,675.4 1162.5,674.9 1162.9,676.1 1163.3,677.7 1163.7,676.7 1164.1,675.8 1164.5,675.0 1164.9,674.5 1165.3,675.6 1165.7,676.3 1166.1,676.7 1166.5,677.2 1167.0,677.3 1167.4,676.2 1167.8,676.2 1168.2,677.3 1168.6,676.7 1169.0,676.8 1169.4,677.1 1169.8,678.5 1170.2,677.9 1170.6,676.3 1171.0,676.4 1171.4,675.8 1171.9,677.4 1172.3,675.5 1172.7,673.6 1173.1,675.1 1173.5,676.2 1173.9,675.2 1174.3,672.6 1174.7,672.5 1175.1,671.7 1175.5,669.5 1175.9,669.4 1176.3,670.9 1176.8,669.6 1177.2,669.0 1177.6,670.8 1178.0,669.6 1178.4,669.8 1178.8,672.1 1179.2,672.1 1179.6,672.2 1180.0,672.1 1180.4,671.4 1180.8,672.1 1181.2,672.4 1181.7,671.7 1182.1,671.2 1182.5,670.9 1182.9,670.3 1183.3,669.8 1183.7,668.0 1184.1,663.7 1184.5,654.0 1184.9,634.2 1185.3,608.1 1185.7,577.8 1186.1,552.4 1186.6,556.8 1187.0,582.2 1187.4,612.7 1187.8,639.0 1188.2,651.9 1188.6,657.4 1189.0,658.3 1189.4,652.8 1189.8,640.2 1190.2,623.9 1190.6,613.8 1191.1,617.2 1191.5,629.7 1191.9,645.0 1192.3,657.6 1192.7,666.0 1193.1,672.2 1193.5,673.1 1193.9,675.1 1194.3,675.8 1194.7,674.4 1195.1,675.9 1195.5,676.0 1196.0,676.4 1196.4,676.1 1196.8,676.1 1197.2,677.1 1197.6,676.3 1198.0,675.9 1198.4,675.6 1198.8,675.3 1199.2,677.0 1199.6,676.6 1200.0,675.3 1200.4,676.4 1200.9,677.4 1201.3,675.5 1201.7,676.1 1202.1,678.1 1202.5,677.1 1202.9,677.4 1203.3,679.6 1203.7,680.0 1204.1,677.7 1204.5,675.8 1204.9,675.6 1205.3,675.8 1205.8,677.4 1206.2,677.1 1206.6,675.2 1207.0,676.3 1207.4,676.5 1207.8,676.2 1208.2,676.9 1208.6,676.3 1209.0,677.6 1209.4,676.7 1209.8,676.2 1210.3,677.5 1210.7,677.2 1211.1,676.8 1211.5,676.0 1211.9,676.4 1212.3,675.6 1212.7,675.4 1213.1,676.9 1213.5,679.5 1213.9,679.4 1214.3,677.3 1214.7,677.7 1215.2,678.2 1215.6,677.0 1216.0,675.4 1216.4,674.4 1216.8,674.3 1217.2,676.4 1217.6,677.2 1218.0,677.7 1218.4,677.3 1218.8,675.9 1219.2,677.0 1219.6,677.4 1220.1,677.1 1220.5,677.5 1220.9,676.3 1221.3,673.2 1221.7,673.6 1222.1,675.3 1222.5,675.8 1222.9,677.0 1223.3,675.3 1223.7,675.3 1224.1,676.8 1224.5,676.6 1225.0,676.4 1225.4,676.4 1225.8,676.4 1226.2,677.4 1226.6,678.0 1227.0,675.8" fill="none" stroke="#0c0c94" stroke-width="4.1" stroke-linejoin="round"/>
<polyline points="295.6,1353.2 296.0,1353.6 296.4,1352.1 296.8,1351.4 297.3,1351.6 297.7,1353.3 298.1,1353.9 298.5,1353.3 298.9,1354.2 299.3,1353.2 299.7,1351.5 300.1,1352.7 300.5,1354.2 300.9,1353.6 301.3,1353.0 301.7,1353.5 302.2,1351.9 302.6,1350.7 303.0,1352.4 303.4,1353.1 303.8,1351.4 304.2,1349.6 304.6,1351.4 305.0,1352.6 305.4,1351.5 305.8,1352.5 306.2,1353.6 306.6,1352.0 307.1,1352.1 307.5,1353.2 307.9,1353.6 308.3,1353.8 308.7,1352.5 309.1,1352.6 309.5,1353.8 309.9,1353.7 310.3,1351.8 310.7,1351.2 311.1,1352.7 311.6,1352.7 312.0,1352.1 312.4,1352.1 312.8,1353.5 313.2,1353.4 313.6,1352.4 314.0,1352.1 314.4,1352.8 314.8,1352.6 315.2,1352.1 315.6,1353.9 316.0,1352.7 316.5,1351.9 316.9,1352.5 317.3,1352.3 317.7,1351.8 318.1,1351.0 318.5,1351.0 318.9,1351.2 319.3,1353.0 319.7,1354.5 320.1,1353.3 320.5,1352.8 320.9,1352.7 321.4,1351.9 321.8,1353.1 322.2,1353.9 322.6,1353.7 323.0,1353.6 323.4,1353.0 323.8,1352.0 324.2,1351.0 324.6,1352.0 325.0,1353.2 325.4,1351.5 325.8,1350.6 326.3,1351.4 326.7,1353.4 327.1,1354.2 327.5,1352.6 327.9,1352.3 328.3,1351.0 328.7,1350.5 329.1,1351.6 329.5,1352.3 329.9,1353.0 330.3,1352.6 330.8,1352.2 331.2,1351.8 331.6,1350.9 332.0,1350.3 332.4,1349.5 332.8,1350.0 333.2,1349.9 333.6,1348.2 334.0,1346.4 334.4,1345.7 334.8,1345.3 335.2,1344.6 335.7,1343.4 336.1,1341.7 336.5,1341.7 336.9,1342.0 337.3,1341.8 337.7,1341.7 338.1,1343.2 338.5,1344.0 338.9,1344.6 339.3,1345.0 339.7,1344.9 340.1,1347.3 340.6,1349.4 341.0,1348.2 341.4,1347.9 341.8,1349.6 342.2,1350.6 342.6,1351.3 343.0,1350.7 343.4,1350.3 343.8,1351.5 344.2,1351.2 344.6,1350.5 345.0,1352.0 345.5,1351.6 345.9,1351.1 346.3,1351.3 346.7,1351.5 347.1,1351.8 347.5,1352.5 347.9,1352.5 348.3,1352.5 348.7,1352.6 349.1,1353.3 349.5,1353.4 350.0,1351.3 350.4,1350.9 350.8,1350.6 351.2,1351.6 351.6,1351.3 352.0,1349.6 352.4,1351.3 352.8,1352.8 353.2,1352.3 353.6,1351.8 354.0,1351.2 354.4,1352.6 354.9,1352.2 355.3,1350.5 355.7,1351.3 356.1,1350.2 356.5,1349.5 356.9,1349.0 357.3,1348.0 357.7,1348.6 358.1,1347.8 358.5,1346.9 358.9,1347.9 359.3,1349.4 359.8,1349.6 360.2,1348.4 360.6,1348.5 361.0,1348.1 361.4,1348.2 361.8,1349.5 362.2,1349.7 362.6,1350.6 363.0,1351.1 363.4,1351.1 363.8,1352.7 364.2,1353.5 364.7,1351.5 365.1,1350.7 365.5,1351.3 365.9,1352.0 366.3,1352.2 366.7,1350.8 367.1,1350.3 367.5,1351.1 367.9,1350.2 368.3,1349.8 368.7,1351.0 369.1,1350.2 369.6,1351.0 370.0,1351.3 370.4,1350.9 370.8,1351.7 371.2,1351.3 371.6,1350.7 372.0,1350.1 372.4,1349.9 372.8,1349.8 373.2,1349.0 373.6,1347.9 374.1,1348.3 374.5,1348.7 374.9,1349.3 375.3,1350.4 375.7,1349.6 376.1,1348.7 376.5,1348.4 376.9,1349.4 377.3,1348.1 377.7,1347.5 378.1,1349.0 378.5,1347.3 379.0,1348.0 379.4,1348.7 379.8,1348.8 380.2,1349.1 380.6,1348.7 381.0,1347.3 381.4,1345.5 381.8,1345.3 382.2,1344.2 382.6,1342.6 383.0,1342.8 383.4,1343.1 383.9,1342.6 384.3,1341.9 384.7,1339.9 385.1,1338.4 385.5,1338.2 385.9,1337.1 386.3,1335.0 386.7,1333.2 387.1,1331.1 387.5,1328.2 387.9,1324.2 388.3,1319.1 388.8,1315.3 389.2,1308.7 389.6,1297.4 390.0,1284.1 390.4,1266.2 390.8,1242.6 391.2,1213.6 391.6,1178.3 392.0,1137.3 392.4,1092.0 392.8,1048.4 393.3,1010.8 393.7,985.0 394.1,974.6 394.5,981.2 394.9,1002.4 395.3,1032.8 395.7,1071.0 396.1,1112.9 396.5,1153.0 396.9,1190.2 397.3,1222.1 397.7,1248.3 398.2,1270.4 398.6,1287.1 399.0,1299.8 399.4,1309.0 399.8,1315.1 400.2,1319.0 400.6,1324.8 401.0,1329.4 401.4,1330.8 401.8,1333.7 402.2,1336.4 402.6,1337.6 403.1,1340.1 403.5,1340.6 403.9,1340.1 404.3,1341.5 404.7,1342.2 405.1,1342.7 405.5,1341.9 405.9,1342.5 406.3,1343.9 406.7,1344.9 407.1,1345.6 407.5,1345.8 408.0,1346.5 408.4,1347.2 408.8,1347.9 409.2,1347.2 409.6,1346.5 410.0,1346.7 410.4,1347.8 410.8,1348.0 411.2,1349.3 411.6,1349.1 412.0,1347.6 412.5,1348.1 412.9,1347.4 413.3,1347.9 413.7,1348.1 414.1,1348.1 414.5,1348.3 414.9,1348.3 415.3,1348.3 415.7,1347.0 416.1,1347.4 416.5,1348.5 416.9,1347.9 417.4,1346.7 417.8,1344.0 418.2,1343.4 418.6,1345.0 419.0,1343.1 419.4,1340.4 419.8,1337.5 420.2,1333.4 420.6,1330.4 421.0,1328.1 421.4,1326.9 421.8,1325.8 422.3,1325.7 422.7,1326.5 423.1,1327.5 423.5,1331.3 423.9,1335.1 424.3,1337.5 424.7,1339.4 425.1,1342.8 425.5,1345.2 425.9,1344.4 426.3,1345.5 426.7,1347.4 427.2,1348.0 427.6,1349.4 428.0,1349.1 428.4,1348.5 428.8,1349.2 429.2,1349.1 429.6,1348.9 430.0,1350.6 430.4,1350.9 430.8,1350.2 431.2,1350.5 431.7,1350.6 432.1,1351.3 432.5,1350.3 432.9,1349.8 433.3,1350.6 433.7,1350.8 434.1,1350.6 434.5,1350.4 434.9,1352.0 435.3,1352.6 435.7,1351.2 436.1,1350.2 436.6,1349.2 437.0,1350.2 437.4,1349.8 437.8,1349.2 438.2,1350.1 438.6,1350.4 439.0,1351.1 439.4,1349.8 439.8,1349.5 440.2,1350.5 440.6,1349.6 441.0,1348.4 441.5,1350.0 441.9,1351.1 442.3,1350.1 442.7,1348.8 443.1,1347.2 443.5,1348.3 443.9,1349.5 444.3,1348.8 444.7,1348.2 445.1,1348.9 445.5,1349.0 445.9,1349.1 446.4,1351.2 446.8,1351.5 447.2,1349.5 447.6,1347.9 448.0,1349.3 448.4,1350.7 448.8,1349.1 449.2,1349.9 449.6,1349.2 450.0,1346.1 450.4,1348.0 450.8,1347.9 451.3,1345.7 451.7,1344.8 452.1,1344.0 452.5,1344.6 452.9,1344.0 453.3,1342.6 453.7,1341.8 454.1,1341.5 454.5,1341.5 454.9,1340.0 455.3,1337.7 455.8,1335.2 456.2,1333.3 456.6,1332.1 457.0,1329.3 457.4,1324.8 457.8,1319.1 458.2,1312.7 458.6,1301.7 459.0,1287.2 459.4,1271.7 459.8,1252.3 460.2,1225.6 460.7,1195.7 461.1,1162.1 461.5,1129.4 461.9,1102.9 462.3,1085.4 462.7,1079.7 463.1,1083.0 463.5,1095.9 463.9,1116.6 464.3,1140.0 464.7,1167.4 465.1,1198.2 465.6,1226.5 466.0,1250.8 466.4,1270.0 466.8,1286.9 467.2,1300.7 467.6,1310.8 468.0,1317.6 468.4,1322.9 468.8,1327.4 469.2,1330.3 469.6,1333.7 470.0,1335.7 470.5,1336.3 470.9,1338.8 471.3,1340.0 471.7,1337.9 472.1,1339.3 472.5,1341.7 472.9,1342.7 473.3,1342.9 473.7,1342.4 474.1,1341.8 474.5,1340.9 475.0,1341.2 475.4,1339.3 475.8,1337.3 476.2,1337.2 476.6,1335.8 477.0,1335.0 477.4,1334.7 477.8,1334.6 478.2,1336.0 478.6,1336.8 479.0,1338.8 479.4,1340.2 479.9,1342.4 480.3,1343.5 480.7,1343.5 481.1,1345.9 481.5,1347.4 481.9,1347.7 482.3,1347.9 482.7,1348.8 483.1,1348.4 483.5,1348.9 483.9,1349.9 484.3,1349.6 484.8,1348.9 485.2,1349.4 485.6,1350.2 486.0,1350.1 486.4,1349.9 486.8,1349.0 487.2,1350.2 487.6,1351.3 488.0,1350.8 488.4,1350.4 488.8,1349.5 489.2,1350.0 489.7,1350.8 490.1,1350.2 490.5,1351.2 490.9,1352.4 491.3,1352.0 491.7,1351.5 492.1,1351.1 492.5,1351.5 492.9,1350.5 493.3,1350.7 493.7,1352.0 494.2,1350.9 494.6,1350.3 495.0,1351.0 495.4,1351.3 495.8,1350.8 496.2,1351.0 496.6,1351.2 497.0,1351.8 497.4,1352.2 497.8,1352.7 498.2,1353.3 498.6,1353.0 499.1,1351.6 499.5,1351.2 499.9,1351.9 500.3,1352.2 500.7,1352.5 501.1,1352.1 501.5,1352.6 501.9,1351.8 502.3,1352.4 502.7,1352.5 503.1,1349.8 503.5,1350.7 504.0,1352.4 504.4,1352.9 504.8,1353.0 505.2,1353.1 505.6,1352.7 506.0,1351.9 506.4,1353.5 506.8,1354.0 507.2,1353.9 507.6,1353.2 508.0,1351.7 508.4,1351.7 508.9,1353.1 509.3,1353.4 509.7,1352.5 510.1,1353.6 510.5,1353.3 510.9,1351.5 511.3,1353.4 511.7,1352.9 512.1,1352.4 512.5,1353.3 512.9,1351.5 513.4,1352.4 513.8,1354.4 514.2,1354.1 514.6,1353.6 515.0,1352.9 515.4,1352.6 515.8,1352.8 516.2,1352.8 516.6,1352.6 517.0,1352.8 517.4,1352.5 517.8,1351.9 518.3,1352.7 518.7,1351.6 519.1,1351.7 519.5,1352.4 519.9,1352.0 520.3,1352.2 520.7,1351.4 521.1,1351.0 521.5,1350.3 521.9,1351.4 522.3,1350.3 522.7,1349.4 523.2,1351.6 523.6,1352.5 524.0,1350.1 524.4,1347.8 524.8,1348.9 525.2,1349.0 525.6,1347.5 526.0,1347.3 526.4,1347.7 526.8,1347.1 527.2,1345.8 527.6,1345.3 528.1,1346.5 528.5,1346.1 528.9,1346.7 529.3,1348.0 529.7,1346.6 530.1,1346.5 530.5,1347.8 530.9,1348.5 531.3,1348.6 531.7,1349.2 532.1,1351.6 532.5,1351.8 533.0,1352.8 533.4,1354.6 533.8,1351.8 534.2,1349.9 534.6,1351.4 535.0,1352.2 535.4,1351.9 535.8,1351.3 536.2,1351.9 536.6,1353.1 537.0,1353.1 537.5,1352.5 537.9,1351.9 538.3,1352.3 538.7,1352.0 539.1,1352.4 539.5,1353.0 539.9,1352.8 540.3,1353.4 540.7,1352.2 541.1,1351.7 541.5,1353.2 541.9,1353.0 542.4,1353.0 542.8,1352.6 543.2,1351.4 543.6,1351.2 544.0,1352.4 544.4,1353.2 544.8,1351.3 545.2,1351.3 545.6,1351.7 546.0,1350.6 546.4,1352.3 546.8,1352.5 547.3,1351.1 547.7,1351.4 548.1,1350.8 548.5,1351.0 548.9,1352.1 549.3,1352.0 549.7,1352.3 550.1,1352.3 550.5,1353.4 550.9,1352.6 551.3,1351.7 551.7,1352.5 552.2,1351.9 552.6,1352.2 553.0,1352.3 553.4,1352.4 553.8,1353.5 554.2,1353.9 554.6,1352.1 555.0,1352.4 555.4,1353.8 555.8,1351.8 556.2,1350.3 556.7,1350.7 557.1,1351.5 557.5,1352.3 557.9,1351.8 558.3,1351.6 558.7,1352.2 559.1,1353.5 559.5,1353.9 559.9,1354.0 560.3,1352.5 560.7,1351.8 561.1,1352.9 561.6,1352.5 562.0,1352.3 562.4,1352.2 562.8,1352.6 563.2,1353.9 563.6,1352.4 564.0,1351.9 564.4,1353.3 564.8,1353.4 565.2,1353.4 565.6,1352.9 566.0,1352.1 566.5,1352.8 566.9,1353.1 567.3,1352.8 567.7,1352.2 568.1,1352.6 568.5,1353.3 568.9,1352.0 569.3,1353.0 569.7,1353.4 570.1,1352.4 570.5,1353.0 570.9,1353.2 571.4,1352.1 571.8,1351.8 572.2,1352.7 572.6,1353.0 573.0,1352.4 573.4,1351.5 573.8,1351.3 574.2,1351.6 574.6,1351.1 575.0,1352.6 575.4,1354.5 575.9,1355.0 576.3,1353.5 576.7,1353.5 577.1,1354.1 577.5,1352.2 577.9,1353.0 578.3,1353.9 578.7,1353.2 579.1,1352.3 579.5,1353.1 579.9,1353.4 580.3,1352.0 580.8,1352.1 581.2,1352.4 581.6,1351.7 582.0,1351.7 582.4,1352.5 582.8,1352.9 583.2,1352.4 583.6,1352.4 584.0,1352.4 584.4,1352.2 584.8,1351.8 585.2,1352.4 585.7,1353.1 586.1,1352.4 586.5,1352.1 586.9,1351.7 587.3,1351.7 587.7,1351.8 588.1,1350.8 588.5,1350.9 588.9,1352.8 589.3,1354.2 589.7,1353.1 590.1,1352.5 590.6,1352.7 591.0,1352.6 591.4,1351.9 591.8,1351.0 592.2,1352.6 592.6,1353.2 593.0,1352.7 593.4,1353.7 593.8,1353.1 594.2,1352.3 594.6,1352.4 595.1,1350.8 595.5,1350.2 595.9,1351.1 596.3,1352.2 596.7,1353.6 597.1,1352.6 597.5,1352.0 597.9,1352.8 598.3,1352.8 598.7,1352.8 599.1,1351.0 599.5,1351.3 600.0,1353.0 600.4,1352.7 600.8,1352.3 601.2,1353.2 601.6,1354.5 602.0,1354.1 602.4,1353.1 602.8,1353.3 603.2,1353.8 603.6,1353.9 604.0,1353.5 604.4,1353.0 604.9,1353.7 605.3,1354.0 605.7,1352.8 606.1,1352.5 606.5,1353.6 606.9,1353.7 607.3,1352.9 607.7,1352.2 608.1,1353.2 608.5,1353.2 608.9,1352.5 609.3,1352.8 609.8,1352.1 610.2,1352.7 610.6,1353.7 611.0,1353.2 611.4,1352.2 611.8,1352.5 612.2,1353.8 612.6,1353.9 613.0,1352.8 613.4,1351.6 613.8,1352.2 614.2,1353.1 614.7,1352.9 615.1,1352.8 615.5,1353.3 615.9,1353.5 616.3,1352.7 616.7,1352.4 617.1,1352.5 617.5,1353.2 617.9,1353.5 618.3,1353.3 618.7,1352.3 619.2,1350.9 619.6,1351.4 620.0,1351.3 620.4,1351.6 620.8,1352.8 621.2,1353.4 621.6,1353.1 622.0,1352.5 622.4,1352.6 622.8,1352.0 623.2,1352.2 623.6,1353.2 624.1,1353.0 624.5,1352.3 624.9,1352.2 625.3,1351.7 625.7,1351.8 626.1,1352.4 626.5,1351.1 626.9,1350.2 627.3,1351.3 627.7,1352.4 628.1,1352.6 628.5,1351.6 629.0,1350.7 629.4,1349.2 629.8,1349.7 630.2,1350.8 630.6,1350.5 631.0,1350.1 631.4,1349.5 631.8,1349.4 632.2,1347.6 632.6,1345.7 633.0,1344.2 633.4,1343.0 633.9,1341.9 634.3,1339.4 634.7,1339.0 635.1,1338.9 635.5,1336.3 635.9,1335.0 636.3,1336.8 636.7,1337.9 637.1,1338.2 637.5,1339.1 637.9,1338.7 638.4,1340.2 638.8,1341.4 639.2,1342.7 639.6,1345.8 640.0,1346.0 640.4,1346.0 640.8,1347.0 641.2,1347.1 641.6,1347.9 642.0,1348.8 642.4,1350.9 642.8,1352.5 643.3,1351.4 643.7,1350.9 644.1,1350.9 644.5,1351.4 644.9,1351.3 645.3,1349.8 645.7,1350.2 646.1,1351.0 646.5,1351.1 646.9,1351.1 647.3,1351.3 647.7,1352.3 648.2,1352.3 648.6,1352.0 649.0,1353.1 649.4,1353.0 649.8,1352.1 650.2,1352.1 650.6,1352.5 651.0,1352.3 651.4,1351.6 651.8,1352.4 652.2,1352.6 652.6,1351.7 653.1,1351.4 653.5,1352.5 653.9,1353.6 654.3,1353.0 654.7,1353.0 655.1,1351.5 655.5,1351.4 655.9,1353.4 656.3,1352.5 656.7,1352.3 657.1,1354.2 657.6,1354.0 658.0,1353.2 658.4,1353.4 658.8,1353.8 659.2,1354.1 659.6,1353.2 660.0,1352.7 660.4,1353.3 660.8,1353.7 661.2,1353.5 661.6,1353.0 662.0,1352.6 662.5,1353.4 662.9,1352.9 663.3,1352.6 663.7,1352.8 664.1,1352.9 664.5,1352.9 664.9,1352.4 665.3,1352.6 665.7,1352.2 666.1,1352.0 666.5,1352.2 666.9,1352.3 667.4,1353.2 667.8,1353.4 668.2,1353.9 668.6,1355.3 669.0,1354.1 669.4,1352.8 669.8,1351.6 670.2,1351.1 670.6,1351.3 671.0,1351.9 671.4,1352.3 671.8,1351.3 672.3,1351.2 672.7,1351.7 673.1,1351.9 673.5,1352.6 673.9,1353.1 674.3,1353.3 674.7,1352.3 675.1,1351.4 675.5,1351.8 675.9,1351.1 676.3,1350.6 676.8,1349.7 677.2,1347.6 677.6,1347.3 678.0,1348.2 678.4,1348.6 678.8,1346.2 679.2,1344.4 679.6,1346.0 680.0,1345.4 680.4,1345.8 680.8,1347.0 681.2,1346.4 681.7,1346.8 682.1,1347.9 682.5,1346.7 682.9,1346.9 683.3,1348.8 683.7,1349.1 684.1,1350.9 684.5,1351.7 684.9,1351.0 685.3,1350.4 685.7,1351.0 686.1,1351.6 686.6,1351.8 687.0,1351.7 687.4,1353.2 687.8,1353.3 688.2,1352.2 688.6,1353.0 689.0,1354.4 689.4,1354.8 689.8,1352.6 690.2,1350.5 690.6,1351.4 691.0,1353.3 691.5,1352.5 691.9,1351.9 692.3,1352.6 692.7,1352.9 693.1,1352.8 693.5,1352.3 693.9,1351.6 694.3,1350.9 694.7,1350.8 695.1,1351.5 695.5,1352.0 695.9,1351.8 696.4,1352.6 696.8,1351.8 697.2,1351.0 697.6,1351.5 698.0,1352.2 698.4,1352.4 698.8,1351.7 699.2,1352.4 699.6,1353.1 700.0,1353.5 700.4,1352.0 700.9,1350.7 701.3,1351.7 701.7,1352.4 702.1,1352.9 702.5,1354.2 702.9,1354.9 703.3,1354.1 703.7,1353.1 704.1,1353.4 704.5,1352.8 704.9,1351.8 705.3,1352.2 705.8,1353.6 706.2,1353.8 706.6,1352.7 707.0,1353.4 707.4,1354.8 707.8,1352.8 708.2,1351.0 708.6,1352.4 709.0,1351.8 709.4,1350.9 709.8,1351.6 710.2,1352.2 710.7,1351.9 711.1,1351.2 711.5,1351.6 711.9,1352.7 712.3,1352.4 712.7,1354.0 713.1,1354.3 713.5,1352.8 713.9,1352.8 714.3,1352.7 714.7,1352.5 715.1,1352.3 715.6,1352.5 716.0,1352.6 716.4,1352.4 716.8,1352.6 717.2,1352.3 717.6,1353.0 718.0,1353.5 718.4,1352.1 718.8,1353.1 719.2,1353.6 719.6,1352.0 720.1,1351.8 720.5,1353.2 720.9,1355.0 721.3,1354.2 721.7,1352.3 722.1,1352.1 722.5,1350.9 722.9,1351.2 723.3,1352.5 723.7,1352.9 724.1,1353.0 724.5,1352.6 725.0,1352.1 725.4,1351.7 725.8,1352.7 726.2,1353.3 726.6,1351.9 727.0,1352.2 727.4,1352.6 727.8,1351.0 728.2,1351.1 728.6,1351.9 729.0,1351.5 729.4,1351.4 729.9,1352.3 730.3,1352.6 730.7,1351.9 731.1,1351.3 731.5,1351.0 731.9,1351.7 732.3,1352.9 732.7,1352.9 733.1,1352.5 733.5,1352.7 733.9,1352.3 734.3,1351.6 734.8,1352.8 735.2,1354.9 735.6,1355.4 736.0,1352.6 736.4,1351.5 736.8,1352.3 737.2,1352.5 737.6,1352.4 738.0,1353.3 738.4,1354.8 738.8,1354.6 739.3,1353.3 739.7,1351.8 740.1,1351.6 740.5,1352.1 740.9,1353.2 741.3,1352.6 741.7,1351.9 742.1,1352.4 742.5,1352.3 742.9,1352.5 743.3,1352.9 743.7,1353.0 744.2,1353.3 744.6,1352.7 745.0,1352.0 745.4,1351.5 745.8,1352.5 746.2,1352.3 746.6,1351.1 747.0,1351.9 747.4,1352.2 747.8,1352.5 748.2,1352.7 748.6,1351.4 749.1,1350.4 749.5,1350.2 749.9,1349.2 750.3,1349.7 750.7,1350.0 751.1,1349.7 751.5,1348.7 751.9,1348.3 752.3,1348.9 752.7,1348.6 753.1,1348.8 753.5,1348.1 754.0,1348.8 754.4,1349.5 754.8,1348.2 755.2,1350.0 755.6,1350.5 756.0,1349.8 756.4,1350.0 756.8,1351.0 757.2,1351.5 757.6,1351.5 758.0,1351.9 758.5,1350.4 758.9,1350.3 759.3,1352.6 759.7,1353.4 760.1,1352.7 760.5,1351.1 760.9,1350.8 761.3,1352.4 761.7,1351.2 762.1,1350.0 762.5,1350.4 762.9,1351.0 763.4,1350.2 763.8,1349.7 764.2,1351.7 764.6,1352.2 765.0,1351.4 765.4,1350.6 765.8,1349.5 766.2,1349.7 766.6,1350.4 767.0,1348.3 767.4,1347.7 767.8,1349.2 768.3,1348.9 768.7,1349.1 769.1,1348.5 769.5,1346.7 769.9,1347.0 770.3,1346.5 770.7,1345.8 771.1,1345.7 771.5,1345.3 771.9,1345.2 772.3,1344.8 772.7,1343.1 773.2,1341.0 773.6,1339.6 774.0,1337.9 774.4,1335.7 774.8,1331.6 775.2,1325.7 775.6,1318.8 776.0,1311.4 776.4,1301.2 776.8,1287.4 777.2,1273.2 777.6,1257.1 778.1,1240.1 778.5,1224.5 778.9,1212.0 779.3,1203.9 779.7,1202.1 780.1,1205.4 780.5,1210.7 780.9,1219.4 781.3,1227.9 781.7,1234.4 782.1,1243.1 782.6,1254.3 783.0,1266.8 783.4,1282.0 783.8,1293.7 784.2,1302.7 784.6,1312.2 785.0,1319.6 785.4,1325.9 785.8,1331.1 786.2,1333.6 786.6,1335.7 787.0,1339.2 787.5,1341.6 787.9,1342.0 788.3,1342.6 788.7,1344.0 789.1,1345.8 789.5,1346.9 789.9,1347.4 790.3,1348.9 790.7,1348.0 791.1,1347.4 791.5,1348.6 791.9,1349.3 792.4,1348.9 792.8,1347.2 793.2,1347.5 793.6,1348.5 794.0,1349.8 794.4,1350.5 794.8,1349.7 795.2,1349.0 795.6,1349.3 796.0,1351.0 796.4,1351.2 796.8,1350.9 797.3,1350.1 797.7,1349.5 798.1,1350.3 798.5,1350.7 798.9,1350.4 799.3,1350.9 799.7,1352.1 800.1,1353.0 800.5,1351.8 800.9,1350.3 801.3,1350.7 801.8,1351.0 802.2,1350.4 802.6,1351.1 803.0,1351.5 803.4,1351.4 803.8,1352.5 804.2,1352.8 804.6,1352.5 805.0,1351.9 805.4,1351.7 805.8,1352.0 806.2,1353.1 806.7,1352.4 807.1,1350.8 807.5,1350.7 807.9,1351.6 808.3,1351.8 808.7,1352.9 809.1,1353.3 809.5,1351.5 809.9,1351.1 810.3,1352.4 810.7,1352.1 811.1,1351.7 811.6,1351.8 812.0,1352.6 812.4,1353.4 812.8,1352.3 813.2,1351.8 813.6,1351.7 814.0,1351.9 814.4,1352.4 814.8,1352.1 815.2,1351.4 815.6,1352.7 816.0,1353.5 816.5,1352.6 816.9,1352.3 817.3,1351.6 817.7,1352.5 818.1,1352.8 818.5,1353.1 818.9,1353.9 819.3,1353.2 819.7,1352.9 820.1,1352.9 820.5,1353.1 821.0,1352.9 821.4,1352.8 821.8,1353.7 822.2,1354.4 822.6,1353.6 823.0,1352.3 823.4,1351.4 823.8,1350.0 824.2,1350.5 824.6,1352.8 825.0,1352.8 825.4,1351.9 825.9,1351.9 826.3,1353.0 826.7,1353.1 827.1,1352.5 827.5,1353.3 827.9,1354.1 828.3,1352.4 828.7,1353.1 829.1,1353.7 829.5,1352.5 829.9,1351.7 830.3,1351.1 830.8,1352.5 831.2,1352.1 831.6,1351.9 832.0,1351.4 832.4,1350.0 832.8,1351.3 833.2,1351.9 833.6,1351.7 834.0,1352.7 834.4,1352.1 834.8,1351.2 835.2,1351.3 835.7,1350.9 836.1,1350.4 836.5,1350.3 836.9,1351.1 837.3,1351.6 837.7,1351.0 838.1,1350.9 838.5,1350.9 838.9,1349.3 839.3,1348.4 839.7,1347.8 840.2,1348.1 840.6,1348.9 841.0,1348.3 841.4,1348.2 841.8,1348.1 842.2,1348.0 842.6,1348.2 843.0,1347.3 843.4,1346.8 843.8,1348.6 844.2,1349.7 844.6,1349.1 845.1,1348.7 845.5,1350.0 845.9,1350.1 846.3,1351.0 846.7,1352.2 847.1,1350.5 847.5,1352.0 847.9,1353.4 848.3,1351.3 848.7,1351.4 849.1,1352.6 849.5,1353.2 850.0,1354.0 850.4,1354.4 850.8,1353.0 851.2,1352.6 851.6,1352.7 852.0,1352.4 852.4,1352.3 852.8,1353.2 853.2,1353.6 853.6,1352.8 854.0,1352.8 854.4,1353.2 854.9,1354.4 855.3,1353.4 855.7,1351.5 856.1,1350.4 856.5,1350.5 856.9,1350.9 857.3,1351.0 857.7,1352.3 858.1,1352.4 858.5,1352.9 858.9,1353.0 859.3,1352.3 859.8,1353.1 860.2,1352.3 860.6,1350.9 861.0,1351.4 861.4,1351.6 861.8,1350.8 862.2,1351.4 862.6,1353.3 863.0,1353.8 863.4,1352.4 863.8,1351.7 864.3,1353.0 864.7,1352.3 865.1,1351.2 865.5,1350.9 865.9,1350.3 866.3,1351.5 866.7,1352.1 867.1,1352.1 867.5,1352.5 867.9,1352.0 868.3,1350.9 868.7,1349.5 869.2,1350.0 869.6,1349.9 870.0,1348.6 870.4,1348.5 870.8,1347.1 871.2,1346.3 871.6,1345.5 872.0,1344.8 872.4,1345.9 872.8,1345.1 873.2,1345.6 873.6,1347.1 874.1,1346.6 874.5,1346.2 874.9,1346.6 875.3,1348.3 875.7,1349.4 876.1,1348.4 876.5,1347.8 876.9,1349.3 877.3,1350.0 877.7,1349.7 878.1,1349.7 878.5,1350.7 879.0,1350.7 879.4,1350.7 879.8,1350.9 880.2,1350.3 880.6,1351.9 881.0,1352.8 881.4,1352.1 881.8,1351.3 882.2,1352.4 882.6,1353.4 883.0,1352.2 883.5,1351.6 883.9,1352.7 884.3,1353.6 884.7,1352.7 885.1,1352.8 885.5,1352.9 885.9,1351.7 886.3,1351.9 886.7,1354.1 887.1,1353.4 887.5,1351.0 887.9,1350.9 888.4,1351.1 888.8,1353.0 889.2,1352.7 889.6,1351.4 890.0,1351.7 890.4,1352.0 890.8,1352.8 891.2,1352.8 891.6,1351.7 892.0,1351.4 892.4,1352.5 892.8,1353.5 893.3,1353.1 893.7,1352.3 894.1,1352.5 894.5,1351.9 894.9,1351.5 895.3,1352.1 895.7,1352.4 896.1,1352.4 896.5,1352.1 896.9,1351.7 897.3,1352.1 897.7,1353.1 898.2,1352.6 898.6,1351.5 899.0,1352.7 899.4,1353.0 899.8,1352.6 900.2,1354.2 900.6,1354.0 901.0,1352.0 901.4,1352.5 901.8,1353.5 902.2,1352.4 902.7,1352.7 903.1,1353.9 903.5,1353.4 903.9,1352.4 904.3,1351.8 904.7,1352.6 905.1,1353.2 905.5,1352.8 905.9,1352.8 906.3,1353.4 906.7,1353.9 907.1,1352.9 907.6,1352.3 908.0,1351.0 908.4,1350.4 908.8,1352.7 909.2,1353.1 909.6,1352.4 910.0,1352.2 910.4,1352.1 910.8,1352.1 911.2,1352.5 911.6,1352.3 912.0,1350.9 912.5,1351.6 912.9,1353.2 913.3,1352.4 913.7,1351.4 914.1,1351.4 914.5,1351.4 914.9,1351.9 915.3,1352.8 915.7,1352.4 916.1,1351.8 916.5,1351.2 916.9,1350.6 917.4,1352.8 917.8,1353.3 918.2,1352.6 918.6,1354.4 919.0,1353.7 919.4,1352.5 919.8,1353.0 920.2,1353.7 920.6,1354.1 921.0,1353.4 921.4,1353.7 921.9,1353.7 922.3,1352.7 922.7,1352.7 923.1,1352.6 923.5,1352.5 923.9,1353.5 924.3,1354.1 924.7,1353.2 925.1,1352.0 925.5,1352.0 925.9,1352.9 926.3,1352.9 926.8,1353.7 927.2,1354.4 927.6,1353.5 928.0,1353.0 928.4,1352.9 928.8,1353.1 929.2,1353.6 929.6,1353.8 930.0,1352.9 930.4,1353.7 930.8,1354.6 931.2,1353.7 931.7,1352.0 932.1,1351.3 932.5,1351.3 932.9,1350.8 933.3,1352.1 933.7,1353.0 934.1,1353.5 934.5,1352.7 934.9,1351.5 935.3,1351.8 935.7,1351.9 936.1,1352.0 936.6,1352.3 937.0,1352.4 937.4,1351.7 937.8,1352.4 938.2,1353.8 938.6,1353.3 939.0,1351.9 939.4,1351.8 939.8,1352.6 940.2,1352.3 940.6,1352.1 941.0,1353.8 941.5,1354.5 941.9,1354.6 942.3,1354.1 942.7,1353.1 943.1,1352.7 943.5,1351.0 943.9,1351.7 944.3,1353.0 944.7,1352.9 945.1,1354.7 945.5,1354.9 946.0,1353.6 946.4,1352.9 946.8,1353.0 947.2,1354.0 947.6,1353.1 948.0,1352.3 948.4,1353.2 948.8,1353.7 949.2,1353.3 949.6,1352.3 950.0,1351.2 950.4,1352.5 950.9,1352.7 951.3,1351.8 951.7,1352.4 952.1,1351.8 952.5,1352.6 952.9,1352.7 953.3,1352.9 953.7,1353.7 954.1,1353.4 954.5,1352.1 954.9,1350.5 955.3,1351.1 955.8,1351.8 956.2,1352.6 956.6,1351.8 957.0,1350.6 957.4,1351.1 957.8,1352.1 958.2,1352.8 958.6,1352.8 959.0,1351.7 959.4,1352.3 959.8,1353.0 960.2,1351.4 960.7,1350.9 961.1,1350.8 961.5,1351.1 961.9,1351.9 962.3,1351.3 962.7,1351.2 963.1,1351.8 963.5,1352.5 963.9,1353.7 964.3,1352.4 964.7,1351.7 965.2,1353.1 965.6,1352.3 966.0,1352.3 966.4,1353.7 966.8,1353.5 967.2,1352.6 967.6,1352.1 968.0,1351.7 968.4,1351.2 968.8,1351.6 969.2,1351.9 969.6,1351.9 970.1,1352.5 970.5,1352.1 970.9,1351.4 971.3,1350.4 971.7,1350.2 972.1,1351.7 972.5,1351.7 972.9,1351.3 973.3,1350.5 973.7,1351.3 974.1,1352.5 974.5,1351.6 975.0,1350.8 975.4,1350.1 975.8,1350.6 976.2,1351.0 976.6,1349.1 977.0,1346.0 977.4,1343.9 977.8,1343.6 978.2,1342.6 978.6,1341.1 979.0,1340.4 979.4,1337.4 979.9,1334.7 980.3,1334.9 980.7,1335.4 981.1,1335.0 981.5,1335.3 981.9,1336.9 982.3,1337.8 982.7,1338.3 983.1,1339.5 983.5,1340.7 983.9,1340.7 984.4,1341.6 984.8,1344.1 985.2,1344.0 985.6,1343.6 986.0,1345.5 986.4,1347.3 986.8,1348.4 987.2,1349.9 987.6,1350.6 988.0,1350.0 988.4,1350.5 988.8,1350.7 989.3,1351.3 989.7,1351.6 990.1,1352.3 990.5,1352.5 990.9,1352.0 991.3,1352.9 991.7,1352.9 992.1,1352.1 992.5,1352.3 992.9,1351.7 993.3,1351.8 993.7,1351.9 994.2,1351.0 994.6,1352.0 995.0,1351.6 995.4,1352.1 995.8,1352.7 996.2,1351.8 996.6,1351.7 997.0,1352.7 997.4,1354.0 997.8,1353.5 998.2,1352.8 998.6,1352.2 999.1,1352.2 999.5,1352.5 999.9,1352.9 1000.3,1353.6 1000.7,1353.5 1001.1,1352.3 1001.5,1351.4 1001.9,1352.1 1002.3,1352.0 1002.7,1352.6 1003.1,1352.7 1003.6,1352.6 1004.0,1352.9 1004.4,1352.8 1004.8,1353.6 1005.2,1353.3 1005.6,1351.9 1006.0,1351.9 1006.4,1352.4 1006.8,1351.9 1007.2,1352.1 1007.6,1352.0 1008.0,1351.8 1008.5,1352.8 1008.9,1353.1 1009.3,1352.2 1009.7,1352.5 1010.1,1352.5 1010.5,1352.8 1010.9,1352.6 1011.3,1352.4 1011.7,1353.0 1012.1,1352.1 1012.5,1351.2 1012.9,1352.1 1013.4,1353.1 1013.8,1352.1 1014.2,1353.5 1014.6,1353.3 1015.0,1350.7 1015.4,1352.2 1015.8,1352.3 1016.2,1351.4 1016.6,1351.8 1017.0,1353.5 1017.4,1354.0 1017.8,1352.7 1018.3,1352.7 1018.7,1352.8 1019.1,1352.7 1019.5,1354.2 1019.9,1354.1 1020.3,1352.8 1020.7,1352.7 1021.1,1352.6 1021.5,1352.5 1021.9,1352.0 1022.3,1350.9 1022.7,1351.5 1023.2,1351.6 1023.6,1351.2 1024.0,1352.8 1024.4,1353.5 1024.8,1352.4 1025.2,1352.4 1025.6,1352.4 1026.0,1351.2 1026.4,1352.1 1026.8,1352.7 1027.2,1352.0 1027.7,1351.4 1028.1,1351.2 1028.5,1351.3 1028.9,1352.0 1029.3,1351.6 1029.7,1352.0 1030.1,1351.8 1030.5,1350.9 1030.9,1352.1 1031.3,1352.7 1031.7,1352.1 1032.1,1352.5 1032.6,1351.4 1033.0,1349.6 1033.4,1351.0 1033.8,1351.6 1034.2,1349.7 1034.6,1349.2 1035.0,1350.8 1035.4,1352.2 1035.8,1352.4 1036.2,1350.1 1036.6,1348.7 1037.0,1350.0 1037.5,1349.4 1037.9,1348.5 1038.3,1348.9 1038.7,1348.5 1039.1,1347.7 1039.5,1345.6 1039.9,1344.9 1040.3,1345.0 1040.7,1341.9 1041.1,1338.8 1041.5,1337.7 1041.9,1334.3 1042.4,1329.2 1042.8,1327.1 1043.2,1321.6 1043.6,1316.0 1044.0,1310.8 1044.4,1304.7 1044.8,1300.9 1045.2,1295.4 1045.6,1291.6 1046.0,1291.6 1046.4,1292.9 1046.9,1295.2 1047.3,1298.2 1047.7,1301.5 1048.1,1303.5 1048.5,1305.1 1048.9,1307.9 1049.3,1310.8 1049.7,1313.9 1050.1,1318.1 1050.5,1322.0 1050.9,1325.6 1051.3,1328.5 1051.8,1332.0 1052.2,1336.2 1052.6,1338.4 1053.0,1339.9 1053.4,1341.6 1053.8,1343.6 1054.2,1343.9 1054.6,1344.9 1055.0,1346.9 1055.4,1345.8 1055.8,1347.1 1056.2,1348.7 1056.7,1348.2 1057.1,1350.0 1057.5,1350.9 1057.9,1349.8 1058.3,1350.5 1058.7,1351.3 1059.1,1350.0 1059.5,1350.2 1059.9,1350.7 1060.3,1351.1 1060.7,1351.8 1061.1,1351.8 1061.6,1351.8 1062.0,1351.1 1062.4,1350.9 1062.8,1350.1 1063.2,1349.9 1063.6,1351.0 1064.0,1350.0 1064.4,1350.3 1064.8,1352.2 1065.2,1352.1 1065.6,1352.3 1066.1,1352.2 1066.5,1350.6 1066.9,1350.6 1067.3,1351.7 1067.7,1352.3 1068.1,1351.7 1068.5,1350.9 1068.9,1351.5 1069.3,1352.5 1069.7,1351.6 1070.1,1351.2 1070.5,1351.7 1071.0,1351.6 1071.4,1352.3 1071.8,1352.7 1072.2,1351.6 1072.6,1351.6 1073.0,1352.4 1073.4,1352.1 1073.8,1351.8 1074.2,1350.4 1074.6,1351.1 1075.0,1352.7 1075.4,1350.9 1075.9,1351.0 1076.3,1352.0 1076.7,1352.9 1077.1,1352.6 1077.5,1351.1 1077.9,1351.2 1078.3,1351.9 1078.7,1352.2 1079.1,1352.1 1079.5,1351.8 1079.9,1351.8 1080.3,1351.8 1080.8,1352.7 1081.2,1353.4 1081.6,1354.3 1082.0,1354.2 1082.4,1351.9 1082.8,1352.0 1083.2,1351.0 1083.6,1351.5 1084.0,1353.2 1084.4,1353.1 1084.8,1353.2 1085.3,1352.9 1085.7,1353.6 1086.1,1353.9 1086.5,1351.7 1086.9,1351.2 1087.3,1351.9 1087.7,1352.6 1088.1,1353.2 1088.5,1352.1 1088.9,1352.1 1089.3,1352.7 1089.7,1352.8 1090.2,1352.4 1090.6,1351.8 1091.0,1351.0 1091.4,1352.4 1091.8,1354.4 1092.2,1353.7 1092.6,1352.4 1093.0,1351.8 1093.4,1351.1 1093.8,1352.0 1094.2,1351.3 1094.6,1350.8 1095.1,1353.2 1095.5,1352.7 1095.9,1351.4 1096.3,1351.8 1096.7,1353.0 1097.1,1353.3 1097.5,1352.2 1097.9,1352.1 1098.3,1351.7 1098.7,1350.8 1099.1,1350.3 1099.5,1350.2 1100.0,1351.3 1100.4,1350.9 1100.8,1350.6 1101.2,1351.1 1101.6,1351.4 1102.0,1352.8 1102.4,1354.0 1102.8,1353.0 1103.2,1351.9 1103.6,1352.0 1104.0,1350.9 1104.4,1351.8 1104.9,1353.4 1105.3,1352.2 1105.7,1350.7 1106.1,1350.9 1106.5,1351.4 1106.9,1352.0 1107.3,1351.6 1107.7,1350.9 1108.1,1350.3 1108.5,1348.9 1108.9,1349.2 1109.4,1349.1 1109.8,1348.1 1110.2,1347.3 1110.6,1345.7 1111.0,1344.7 1111.4,1344.0 1111.8,1342.4 1112.2,1341.3 1112.6,1339.7 1113.0,1336.9 1113.4,1333.4 1113.8,1330.0 1114.3,1326.3 1114.7,1325.0 1115.1,1323.9 1115.5,1322.3 1115.9,1321.4 1116.3,1321.0 1116.7,1320.4 1117.1,1319.9 1117.5,1322.6 1117.9,1324.2 1118.3,1324.4 1118.7,1324.7 1119.2,1325.8 1119.6,1328.0 1120.0,1330.0 1120.4,1331.3 1120.8,1332.8 1121.2,1335.5 1121.6,1338.4 1122.0,1339.4 1122.4,1340.9 1122.8,1343.4 1123.2,1343.9 1123.6,1345.0 1124.1,1345.8 1124.5,1347.4 1124.9,1348.4 1125.3,1349.1 1125.7,1351.0 1126.1,1351.3 1126.5,1350.6 1126.9,1350.6 1127.3,1351.8 1127.7,1350.8 1128.1,1350.7 1128.6,1351.7 1129.0,1351.0 1129.4,1351.4 1129.8,1351.4 1130.2,1350.8 1130.6,1351.2 1131.0,1351.0 1131.4,1351.4 1131.8,1352.8 1132.2,1352.3 1132.6,1352.3 1133.0,1352.2 1133.5,1351.7 1133.9,1352.3 1134.3,1351.9 1134.7,1351.3 1135.1,1353.6 1135.5,1354.2 1135.9,1352.2 1136.3,1351.7 1136.7,1352.2 1137.1,1353.3 1137.5,1352.9 1137.9,1351.7 1138.4,1353.1 1138.8,1354.5 1139.2,1353.6 1139.6,1354.3 1140.0,1354.3 1140.4,1352.2 1140.8,1352.5 1141.2,1353.0 1141.6,1352.9 1142.0,1352.7 1142.4,1351.7 1142.8,1351.2 1143.3,1351.6 1143.7,1351.7 1144.1,1351.5 1144.5,1352.5 1144.9,1351.8 1145.3,1351.9 1145.7,1352.7 1146.1,1350.8 1146.5,1350.4 1146.9,1352.5 1147.3,1352.8 1147.8,1352.7 1148.2,1353.0 1148.6,1353.6 1149.0,1353.3 1149.4,1353.4 1149.8,1353.3 1150.2,1352.1 1150.6,1351.8 1151.0,1350.6 1151.4,1352.2 1151.8,1354.4 1152.2,1354.0 1152.7,1353.6 1153.1,1352.4 1153.5,1352.2 1153.9,1353.2 1154.3,1353.7 1154.7,1353.7 1155.1,1353.3 1155.5,1352.9 1155.9,1353.6 1156.3,1353.6 1156.7,1352.3 1157.1,1352.0 1157.6,1353.2 1158.0,1352.9 1158.4,1351.6 1158.8,1351.9 1159.2,1353.2 1159.6,1354.3 1160.0,1353.5 1160.4,1353.2 1160.8,1354.1 1161.2,1352.9 1161.6,1351.5 1162.0,1351.6 1162.5,1351.4 1162.9,1351.2 1163.3,1352.8 1163.7,1352.6 1164.1,1351.8 1164.5,1352.3 1164.9,1351.3 1165.3,1351.3 1165.7,1351.3 1166.1,1351.6 1166.5,1352.8 1167.0,1353.3 1167.4,1353.1 1167.8,1353.7 1168.2,1353.7 1168.6,1352.7 1169.0,1353.0 1169.4,1354.3 1169.8,1355.3 1170.2,1353.4 1170.6,1352.7 1171.0,1352.2 1171.4,1352.1 1171.9,1352.7 1172.3,1353.1 1172.7,1353.7 1173.1,1352.8 1173.5,1352.0 1173.9,1350.7 1174.3,1350.3 1174.7,1352.1 1175.1,1352.5 1175.5,1351.5 1175.9,1351.7 1176.3,1350.9 1176.8,1349.2 1177.2,1349.6 1177.6,1349.7 1178.0,1348.5 1178.4,1349.8 1178.8,1349.7 1179.2,1348.1 1179.6,1349.2 1180.0,1349.3 1180.4,1349.5 1180.8,1349.9 1181.2,1349.7 1181.7,1351.1 1182.1,1351.4 1182.5,1351.0 1182.9,1351.6 1183.3,1352.4 1183.7,1352.7 1184.1,1352.9 1184.5,1351.9 1184.9,1352.5 1185.3,1353.3 1185.7,1352.5 1186.1,1353.5 1186.6,1352.7 1187.0,1352.5 1187.4,1352.2 1187.8,1351.8 1188.2,1352.4 1188.6,1352.4 1189.0,1352.2 1189.4,1351.6 1189.8,1352.3 1190.2,1352.9 1190.6,1351.5 1191.1,1351.9 1191.5,1351.9 1191.9,1351.7 1192.3,1353.3 1192.7,1354.1 1193.1,1354.3 1193.5,1354.3 1193.9,1354.1 1194.3,1352.6 1194.7,1352.3 1195.1,1353.1 1195.5,1353.7 1196.0,1353.8 1196.4,1354.0 1196.8,1354.4 1197.2,1352.3 1197.6,1351.3 1198.0,1353.1 1198.4,1352.9 1198.8,1351.3 1199.2,1352.2 1199.6,1353.2 1200.0,1353.6 1200.4,1354.5 1200.9,1352.9 1201.3,1349.7 1201.7,1351.0 1202.1,1354.2 1202.5,1352.8 1202.9,1351.1 1203.3,1351.7 1203.7,1351.5 1204.1,1352.0 1204.5,1352.8 1204.9,1352.0 1205.3,1352.4 1205.8,1352.6 1206.2,1352.6 1206.6,1352.6 1207.0,1352.3 1207.4,1353.9 1207.8,1353.9 1208.2,1353.6 1208.6,1354.2 1209.0,1354.3 1209.4,1353.3 1209.8,1352.4 1210.3,1353.2 1210.7,1352.2 1211.1,1351.5 1211.5,1352.4 1211.9,1354.2 1212.3,1353.6 1212.7,1352.5 1213.1,1353.1 1213.5,1352.5 1213.9,1352.7 1214.3,1353.2 1214.7,1352.2 1215.2,1351.8 1215.6,1352.8 1216.0,1352.2 1216.4,1351.1 1216.8,1350.8 1217.2,1351.6 1217.6,1352.6 1218.0,1351.9 1218.4,1351.8 1218.8,1352.4 1219.2,1352.7 1219.6,1353.0 1220.1,1353.4 1220.5,1353.6 1220.9,1352.9 1221.3,1352.7 1221.7,1353.8 1222.1,1353.6 1222.5,1351.7 1222.9,1350.8 1223.3,1353.2 1223.7,1354.6 1224.1,1352.8 1224.5,1352.2 1225.0,1352.7 1225.4,1352.8 1225.8,1352.8 1226.2,1353.4 1226.6,1352.6 1227.0,1352.7" fill="none" stroke="#ff0000" stroke-width="4.2" stroke-linejoin="round"/>
<path d="M295.6,59.7 V1384.8 H1227.0 V1367.8 M295.6,723.0 H1227.0 V706.0" fill="none" stroke="#2c2c2c" stroke-width="3.3"/>
<path d="M277.6,680.7H295.6M277.6,473.7H295.6M277.6,266.7H295.6M277.6,59.7H295.6M286.1,577.2H295.6M286.1,370.2H295.6M286.1,163.2H295.6M277.6,1356.6H295.6M277.6,1212.5H295.6M277.6,1068.4H295.6M277.6,924.3H295.6M277.6,780.2H295.6M286.1,1284.5H295.6M286.1,1140.4H295.6M286.1,996.3H295.6M286.1,852.2H295.6M410.0,723.0V706.0M410.0,1384.8V1367.8M573.4,723.0V706.0M573.4,1384.8V1367.8M736.8,723.0V706.0M736.8,1384.8V1367.8M900.2,723.0V706.0M900.2,1384.8V1367.8M1063.6,723.0V706.0M1063.6,1384.8V1367.8M328.3,723.0V714.0M328.3,1384.8V1375.8M491.7,723.0V714.0M491.7,1384.8V1375.8M655.1,723.0V714.0M655.1,1384.8V1375.8M818.5,723.0V714.0M818.5,1384.8V1375.8M981.9,723.0V714.0M981.9,1384.8V1375.8M1145.3,723.0V714.0M1145.3,1384.8V1375.8" fill="none" stroke="#1c1c1c" stroke-width="3.3"/>
<g font-family="Liberation Sans, sans-serif" fill="#151515" stroke="#151515" stroke-width="0.7">
<text transform="translate(243.25,691.70) scale(1.0,1)" font-size="38.2">0</text>
<text transform="translate(200.76,484.70) scale(1.0,1)" font-size="38.2">250</text>
<text transform="translate(200.76,277.70) scale(1.0,1)" font-size="38.2">500</text>
<text transform="translate(200.76,70.70) scale(1.0,1)" font-size="38.2">750</text>
<text transform="translate(243.25,1367.60) scale(1.0,1)" font-size="38.2">0</text>
<text transform="translate(200.76,1223.50) scale(1.0,1)" font-size="38.2">250</text>
<text transform="translate(200.76,1079.40) scale(1.0,1)" font-size="38.2">500</text>
<text transform="translate(200.76,935.30) scale(1.0,1)" font-size="38.2">750</text>
<text transform="translate(179.51,791.20) scale(1.0,1)" font-size="38.2">1000</text>
<text transform="translate(388.12,769.30) scale(1.045,1)" font-size="38.2">40</text>
<text transform="translate(388.12,1431.60) scale(1.045,1)" font-size="38.2">40</text>
<text transform="translate(551.18,769.30) scale(1.045,1)" font-size="38.2">50</text>
<text transform="translate(551.18,1431.60) scale(1.045,1)" font-size="38.2">50</text>
<text transform="translate(714.37,769.30) scale(1.045,1)" font-size="38.2">60</text>
<text transform="translate(714.37,1431.60) scale(1.045,1)" font-size="38.2">60</text>
<text transform="translate(877.76,769.30) scale(1.045,1)" font-size="38.2">70</text>
<text transform="translate(877.76,1431.60) scale(1.045,1)" font-size="38.2">70</text>
<text transform="translate(1041.31,769.30) scale(1.045,1)" font-size="38.2">80</text>
<text transform="translate(1041.31,1431.60) scale(1.045,1)" font-size="38.2">80</text>
<text transform="translate(1204.64,769.30) scale(1.045,1)" font-size="38.2">90</text>
<text transform="translate(1204.64,1431.60) scale(1.045,1)" font-size="38.2">90</text>
<g transform="translate(304.6,571.2) scale(1.07,1)"><text x="-3.04" y="0" font-size="37.0">MgF<tspan font-size="26.5" dx="0.4" dy="10.3">2</tspan></text></g>
<g transform="translate(370.9,466.5) scale(1.07,1)"><text x="-3.04" y="0" font-size="37.0">MgF<tspan font-size="26.5" dx="0.4" dy="10.3">2</tspan></text></g>
<g transform="translate(412.8,205.6) scale(1.07,1)"><text x="-3.04" y="0" font-size="37.0">MgF<tspan font-size="26.5" dx="0.4" dy="10.3">2</tspan></text></g>
<g transform="translate(833.7,167.4) scale(1.07,1)"><text x="-3.04" y="0" font-size="37.0">MgF<tspan font-size="26.5" dx="0.4" dy="10.3">2</tspan></text></g>
<g transform="translate(745.7,468.6) scale(1.07,1)"><text x="-3.04" y="0" font-size="37.0">MgF<tspan font-size="26.5" dx="0.4" dy="10.3">2</tspan></text></g>
<g transform="translate(996.9,631) scale(1.07,1)"><text x="-3.04" y="0" font-size="37.0">MgF<tspan font-size="26.5" dx="0.4" dy="10.3">2</tspan></text></g>
<g transform="translate(1083.2,325.9) scale(1.07,1)"><text x="-3.04" y="0" font-size="37.0">MgF<tspan font-size="26.5" dx="0.4" dy="10.3">2</tspan></text></g>
<g transform="translate(1166.4,529.5) scale(1.07,1)"><text x="-3.04" y="0" font-size="37.0">MgF<tspan font-size="26.5" dx="0.4" dy="10.3">2</tspan></text></g>
<g transform="translate(638,165.6) rotate(-90) scale(1,1.07)"><text x="-3.04" y="0" font-size="37.0">MgF<tspan font-size="26.5" dx="0.4" dy="10.3">2</tspan></text></g>
<g transform="translate(695.2,155.4) rotate(-90) scale(1,1.07)"><text x="-3.04" y="0" font-size="37.0">MgF<tspan font-size="26.5" dx="0.4" dy="10.3">2</tspan></text></g>
<g transform="translate(939.8,533.8) rotate(-90) scale(1,1.07)"><text x="-3.04" y="0" font-size="37.0">MgF<tspan font-size="26.5" dx="0.4" dy="10.3">2</tspan></text></g>
<g transform="translate(983.6,588.5) rotate(-90) scale(1,1.07)"><text x="-3.04" y="0" font-size="37.0">MgF<tspan font-size="26.5" dx="0.4" dy="10.3">2</tspan></text></g>
<g transform="translate(944.4,1309) scale(1.07,1)"><text x="-3.04" y="0" font-size="37.0">MgO</text></g>
<g transform="translate(353.7,1314.8) rotate(-90) scale(1,1.07)"><text x="-3.04" y="0" font-size="37.0">MgO</text></g>
<g transform="translate(409.3,956.8) rotate(-90) scale(1,1.07)"><text x="-3.04" y="0" font-size="37.0">MgO</text></g>
<g transform="translate(466.3,1061.9) rotate(-90) scale(1,1.07)"><text x="-3.04" y="0" font-size="37.0">MgO</text></g>
<g transform="translate(781.5,1185) rotate(-90) scale(1,1.07)"><text x="-3.04" y="0" font-size="37.0">MgO</text></g>
<g transform="translate(1063.5,1271) rotate(-90) scale(1,1.07)"><text x="-3.04" y="0" font-size="37.0">MgO</text></g>
<text transform="translate(29.82,98.00) scale(0.735,1)" font-size="61" stroke-width="0.6">(</text>
<text transform="translate(47.98,98.20) scale(0.88,1)" font-size="54" stroke-width="0.6">a</text>
<text transform="translate(82.74,98.00) scale(0.735,1)" font-size="61" stroke-width="0.6">)</text>
<text transform="translate(29.14,792.60) scale(0.76,1)" font-size="60.6" stroke-width="0.6">(</text>
<text transform="translate(48.85,792.80) scale(1.0,1)" font-size="58.2" stroke-width="0.4">b</text>
<text transform="translate(85.23,792.60) scale(0.76,1)" font-size="60.6" stroke-width="0.6">)</text>
<g transform="translate(167.4,211.9) rotate(-90) scale(0.8643,1)"><text x="-4.71" y="0" font-size="51">Intensity</text></g>
<text transform="translate(566.19,1503.60) scale(1.04,1)" font-size="46" >2</text>
<text transform="translate(593.87,1504.20) scale(1.0,1)" font-size="47" stroke-width="0">θ</text>
<text transform="translate(616.56,1503.60) scale(1.1,1)" font-size="50" stroke-width="0">,</text>
<text transform="translate(639.14,1503.60) scale(1.0,1)" font-size="44.5" >(</text>
<text transform="translate(689.24,1503.60) scale(1.0,1)" font-size="44.5" >)</text>
</g>
<ellipse cx="670.9" cy="1479.1" rx="7.6" ry="9.2" fill="none" stroke="#151515" stroke-width="3.6"/>
</g>
</svg></body></html>
